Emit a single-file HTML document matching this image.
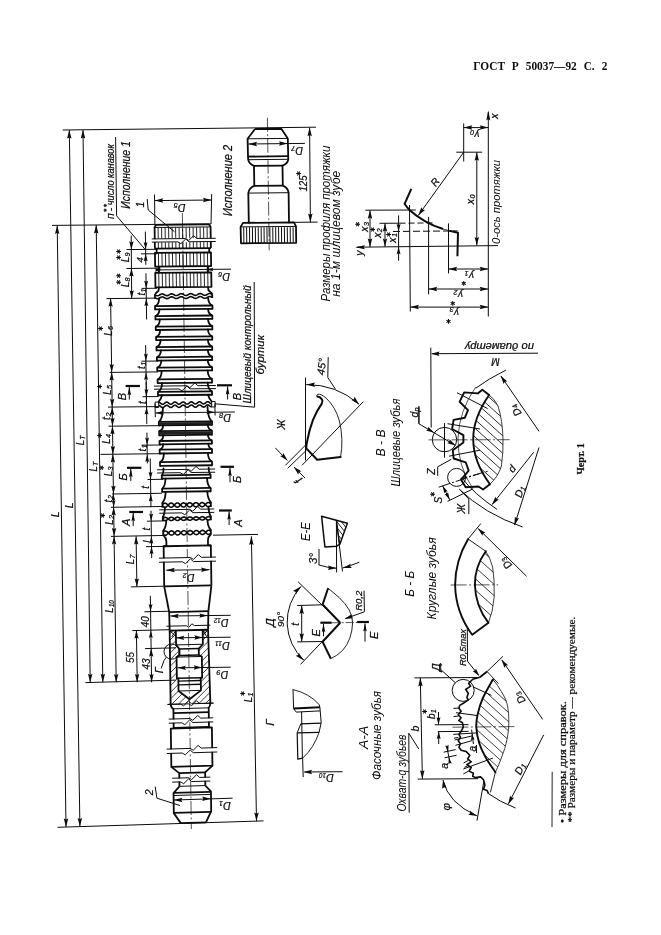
<!DOCTYPE html>
<html lang="ru"><head><meta charset="utf-8"><title>ГОСТ Р 50037-92 С. 2</title>
<style>html,body{margin:0;padding:0;background:#fff}body{width:661px;height:935px;overflow:hidden}svg{display:block;will-change:transform;opacity:0.9999}</style>
</head><body>
<svg width="661" height="935" viewBox="0 0 661 935">
<rect width="661" height="935" fill="#fff"/>
<line x1="62.7" y1="130" x2="316" y2="127.2" stroke="#0c0c0c" stroke-width="1"/>
<line x1="52" y1="225.4" x2="211" y2="223.9" stroke="#0c0c0c" stroke-width="1"/>
<line x1="57.5" y1="827.3" x2="263.5" y2="820.9" stroke="#0c0c0c" stroke-width="1"/>
<line x1="57.2" y1="225.4" x2="66" y2="827" stroke="#0c0c0c" stroke-width="1"/>
<polygon points="57.2,225.4 59.44,234 57.2,232.8 54.96,234" fill="#0c0c0c"/>
<polygon points="66,827 63.76,818.4 66,819.6 68.24,818.4" fill="#0c0c0c"/>
<line x1="69.3" y1="130" x2="79.9" y2="826.6" stroke="#0c0c0c" stroke-width="1"/>
<polygon points="69.3,130 71.54,138.6 69.3,137.4 67.06,138.6" fill="#0c0c0c"/>
<polygon points="79.9,826.6 77.66,818 79.9,819.2 82.14,818" fill="#0c0c0c"/>
<line x1="83" y1="130" x2="90.2" y2="682.3" stroke="#0c0c0c" stroke-width="1"/>
<polygon points="83,130 85.24,138.6 83,137.4 80.76,138.6" fill="#0c0c0c"/>
<polygon points="90.2,682.3 87.96,673.7 90.2,674.9 92.44,673.7" fill="#0c0c0c"/>
<line x1="96.2" y1="225" x2="102.8" y2="682.3" stroke="#0c0c0c" stroke-width="1"/>
<polygon points="96.2,225 98.44,233.6 96.2,232.4 93.96,233.6" fill="#0c0c0c"/>
<polygon points="102.8,682.3 100.56,673.7 102.8,674.9 105.04,673.7" fill="#0c0c0c"/>
<text transform="translate(54.8 514.4) rotate(-90)" x="0" y="3.78" font-family='"Liberation Sans", "DejaVu Sans", sans-serif' font-size="10.8" font-style="italic" font-weight="normal" text-anchor="middle" fill="#0c0c0c" textLength="5.8" lengthAdjust="spacingAndGlyphs" stroke="#0c0c0c" stroke-width="0.22">L</text>
<text transform="translate(68.9 505.4) rotate(-90)" x="0" y="3.78" font-family='"Liberation Sans", "DejaVu Sans", sans-serif' font-size="10.8" font-style="italic" font-weight="normal" text-anchor="middle" fill="#0c0c0c" textLength="5.8" lengthAdjust="spacingAndGlyphs" stroke="#0c0c0c" stroke-width="0.22">L</text>
<text transform="translate(80.3 442.5) rotate(-90)" x="0" y="3.78" font-family='"Liberation Sans", "DejaVu Sans", sans-serif' font-size="10.8" font-style="italic" font-weight="normal" text-anchor="middle" fill="#0c0c0c" textLength="5.4" lengthAdjust="spacingAndGlyphs" stroke="#0c0c0c" stroke-width="0.22">L</text>
<text transform="translate(82.46 437.48) rotate(-90)" x="0" y="2.52" font-family='"Liberation Sans", "DejaVu Sans", sans-serif' font-size="7.2" font-style="italic" font-weight="normal" text-anchor="middle" fill="#0c0c0c" stroke="#0c0c0c" stroke-width="0.22">T</text>
<text transform="translate(93.1 468.8) rotate(-90)" x="0" y="3.78" font-family='"Liberation Sans", "DejaVu Sans", sans-serif' font-size="10.8" font-style="italic" font-weight="normal" text-anchor="middle" fill="#0c0c0c" textLength="5.4" lengthAdjust="spacingAndGlyphs" stroke="#0c0c0c" stroke-width="0.22">L</text>
<text transform="translate(95.26 463.78) rotate(-90)" x="0" y="2.52" font-family='"Liberation Sans", "DejaVu Sans", sans-serif' font-size="7.2" font-style="italic" font-weight="normal" text-anchor="middle" fill="#0c0c0c" stroke="#0c0c0c" stroke-width="0.22">T</text>
<line x1="110.6" y1="298.5" x2="116.2" y2="682.3" stroke="#0c0c0c" stroke-width="1"/>
<polygon points="110.6,298.5 112.74,306.75 110.6,305.6 108.45,306.75" fill="#0c0c0c"/>
<polygon points="111.68,372.3 109.53,364.05 111.68,365.2 113.82,364.05" fill="#0c0c0c"/>
<polygon points="111.68,372.3 113.82,380.55 111.68,379.4 109.53,380.55" fill="#0c0c0c"/>
<polygon points="112.18,407 110.04,398.75 112.18,399.9 114.33,398.75" fill="#0c0c0c"/>
<polygon points="112.18,407 114.33,415.25 112.18,414.1 110.04,415.25" fill="#0c0c0c"/>
<polygon points="112.46,426.1 110.32,417.85 112.46,419 114.61,417.85" fill="#0c0c0c"/>
<polygon points="112.46,426.1 114.61,434.35 112.46,433.2 110.32,434.35" fill="#0c0c0c"/>
<polygon points="112.87,454.3 110.73,446.05 112.87,447.2 115.02,446.05" fill="#0c0c0c"/>
<polygon points="112.87,454.3 115.02,462.55 112.87,461.4 110.73,462.55" fill="#0c0c0c"/>
<polygon points="113.45,493.9 111.31,485.65 113.45,486.8 115.6,485.65" fill="#0c0c0c"/>
<polygon points="113.45,493.9 115.21,500.65 113.45,499.7 111.7,500.65" fill="#0c0c0c"/>
<polygon points="113.65,507.2 111.89,500.45 113.65,501.39 115.4,500.45" fill="#0c0c0c"/>
<polygon points="113.65,507.2 115.79,515.45 113.65,514.29 111.5,515.45" fill="#0c0c0c"/>
<polygon points="114.07,536.2 111.93,527.95 114.07,529.11 116.22,527.95" fill="#0c0c0c"/>
<polygon points="114.07,536.2 116.22,544.45 114.07,543.3 111.93,544.45" fill="#0c0c0c"/>
<polygon points="116.2,682.3 114.06,674.05 116.2,675.2 118.35,674.05" fill="#0c0c0c"/>
<line x1="106.5" y1="298.6" x2="156.5" y2="298.1" stroke="#0c0c0c" stroke-width="1"/>
<line x1="109.6" y1="372.4" x2="158" y2="371.92" stroke="#0c0c0c" stroke-width="1"/>
<line x1="108" y1="407.1" x2="158" y2="406.6" stroke="#0c0c0c" stroke-width="1"/>
<line x1="108.5" y1="426.2" x2="160.5" y2="425.66" stroke="#0c0c0c" stroke-width="1"/>
<line x1="100.5" y1="454.4" x2="161" y2="453.66" stroke="#0c0c0c" stroke-width="1"/>
<line x1="112" y1="494" x2="162" y2="493.25" stroke="#0c0c0c" stroke-width="1"/>
<line x1="111" y1="507.3" x2="164" y2="506.46" stroke="#0c0c0c" stroke-width="1"/>
<line x1="111" y1="536.4" x2="165" y2="535.44" stroke="#0c0c0c" stroke-width="1"/>
<line x1="85.4" y1="682.6" x2="176" y2="680.11" stroke="#0c0c0c" stroke-width="1"/>
<text transform="translate(108.6 333) rotate(-90)" x="0" y="3.67" font-family='"Liberation Sans", "DejaVu Sans", sans-serif' font-size="10.5" font-style="italic" font-weight="normal" text-anchor="middle" fill="#0c0c0c" textLength="5.25" lengthAdjust="spacingAndGlyphs" stroke="#0c0c0c" stroke-width="0.22">L</text>
<text transform="translate(110.7 328.06) rotate(-90)" x="0" y="2.52" font-family='"Liberation Sans", "DejaVu Sans", sans-serif' font-size="7.2" font-style="italic" font-weight="normal" text-anchor="middle" fill="#0c0c0c" stroke="#0c0c0c" stroke-width="0.22">6</text>
<text transform="translate(100.5 328.4) rotate(-90)" x="0" y="2.38" font-family='"DejaVu Sans", "Liberation Sans", sans-serif' font-size="6.6" text-anchor="middle" fill="#0c0c0c">✱</text>
<text transform="translate(107.6 392) rotate(-90)" x="0" y="3.67" font-family='"Liberation Sans", "DejaVu Sans", sans-serif' font-size="10.5" font-style="italic" font-weight="normal" text-anchor="middle" fill="#0c0c0c" textLength="5.25" lengthAdjust="spacingAndGlyphs" stroke="#0c0c0c" stroke-width="0.22">L</text>
<text transform="translate(109.7 387.06) rotate(-90)" x="0" y="2.52" font-family='"Liberation Sans", "DejaVu Sans", sans-serif' font-size="7.2" font-style="italic" font-weight="normal" text-anchor="middle" fill="#0c0c0c" stroke="#0c0c0c" stroke-width="0.22">5</text>
<text transform="translate(100 386.5) rotate(-90)" x="0" y="2.38" font-family='"DejaVu Sans", "Liberation Sans", sans-serif' font-size="6.6" text-anchor="middle" fill="#0c0c0c">✱</text>
<text transform="translate(106.8 418.5) rotate(-90)" x="0" y="3.67" font-family='"Liberation Sans", "DejaVu Sans", sans-serif' font-size="10.5" font-style="italic" font-weight="normal" text-anchor="middle" fill="#0c0c0c" stroke="#0c0c0c" stroke-width="0.22">t</text>
<text transform="translate(108.9 414.61) rotate(-90)" x="0" y="2.52" font-family='"Liberation Sans", "DejaVu Sans", sans-serif' font-size="7.2" font-style="italic" font-weight="normal" text-anchor="middle" fill="#0c0c0c" stroke="#0c0c0c" stroke-width="0.22">2</text>
<text transform="translate(106.8 441) rotate(-90)" x="0" y="3.67" font-family='"Liberation Sans", "DejaVu Sans", sans-serif' font-size="10.5" font-style="italic" font-weight="normal" text-anchor="middle" fill="#0c0c0c" textLength="5.25" lengthAdjust="spacingAndGlyphs" stroke="#0c0c0c" stroke-width="0.22">L</text>
<text transform="translate(108.9 436.06) rotate(-90)" x="0" y="2.52" font-family='"Liberation Sans", "DejaVu Sans", sans-serif' font-size="7.2" font-style="italic" font-weight="normal" text-anchor="middle" fill="#0c0c0c" stroke="#0c0c0c" stroke-width="0.22">4</text>
<text transform="translate(99.8 435.5) rotate(-90)" x="0" y="2.38" font-family='"DejaVu Sans", "Liberation Sans", sans-serif' font-size="6.6" text-anchor="middle" fill="#0c0c0c">✱</text>
<text transform="translate(108.8 473.5) rotate(-90)" x="0" y="3.67" font-family='"Liberation Sans", "DejaVu Sans", sans-serif' font-size="10.5" font-style="italic" font-weight="normal" text-anchor="middle" fill="#0c0c0c" textLength="5.25" lengthAdjust="spacingAndGlyphs" stroke="#0c0c0c" stroke-width="0.22">L</text>
<text transform="translate(110.9 468.56) rotate(-90)" x="0" y="2.52" font-family='"Liberation Sans", "DejaVu Sans", sans-serif' font-size="7.2" font-style="italic" font-weight="normal" text-anchor="middle" fill="#0c0c0c" stroke="#0c0c0c" stroke-width="0.22">3</text>
<text transform="translate(102 467.8) rotate(-90)" x="0" y="2.38" font-family='"DejaVu Sans", "Liberation Sans", sans-serif' font-size="6.6" text-anchor="middle" fill="#0c0c0c">✱</text>
<text transform="translate(108.8 501) rotate(-90)" x="0" y="3.67" font-family='"Liberation Sans", "DejaVu Sans", sans-serif' font-size="10.5" font-style="italic" font-weight="normal" text-anchor="middle" fill="#0c0c0c" stroke="#0c0c0c" stroke-width="0.22">t</text>
<text transform="translate(110.9 497.11) rotate(-90)" x="0" y="2.52" font-family='"Liberation Sans", "DejaVu Sans", sans-serif' font-size="7.2" font-style="italic" font-weight="normal" text-anchor="middle" fill="#0c0c0c" stroke="#0c0c0c" stroke-width="0.22">2</text>
<text transform="translate(109.8 522) rotate(-90)" x="0" y="3.67" font-family='"Liberation Sans", "DejaVu Sans", sans-serif' font-size="10.5" font-style="italic" font-weight="normal" text-anchor="middle" fill="#0c0c0c" textLength="5.25" lengthAdjust="spacingAndGlyphs" stroke="#0c0c0c" stroke-width="0.22">L</text>
<text transform="translate(111.9 517.06) rotate(-90)" x="0" y="2.52" font-family='"Liberation Sans", "DejaVu Sans", sans-serif' font-size="7.2" font-style="italic" font-weight="normal" text-anchor="middle" fill="#0c0c0c" stroke="#0c0c0c" stroke-width="0.22">2</text>
<text transform="translate(102.6 515.5) rotate(-90)" x="0" y="2.38" font-family='"DejaVu Sans", "Liberation Sans", sans-serif' font-size="6.6" text-anchor="middle" fill="#0c0c0c">✱</text>
<text transform="translate(109.4 610) rotate(-90)" x="0" y="3.67" font-family='"Liberation Sans", "DejaVu Sans", sans-serif' font-size="10.5" font-style="italic" font-weight="normal" text-anchor="middle" fill="#0c0c0c" textLength="5.25" lengthAdjust="spacingAndGlyphs" stroke="#0c0c0c" stroke-width="0.22">L</text>
<text transform="translate(111.5 603.65) rotate(-90)" x="0" y="2.52" font-family='"Liberation Sans", "DejaVu Sans", sans-serif' font-size="7.2" font-style="italic" font-weight="normal" text-anchor="middle" fill="#0c0c0c" textLength="6.85" lengthAdjust="spacingAndGlyphs" stroke="#0c0c0c" stroke-width="0.22">10</text>
<line x1="131.2" y1="235.6" x2="131.7" y2="298.5" stroke="#0c0c0c" stroke-width="1"/>
<polygon points="131.4,249.5 129.25,241.25 131.4,242.41 133.55,241.25" fill="#0c0c0c"/>
<polygon points="131.45,268.3 133.59,276.55 131.45,275.4 129.3,276.55" fill="#0c0c0c"/>
<polygon points="131.45,268.3 131.41,268.15 131.45,268.17 131.49,268.15" fill="#0c0c0c"/>
<polygon points="131.7,298.5 129.55,290.25 131.7,291.4 133.84,290.25" fill="#0c0c0c"/>
<line x1="126.5" y1="249.6" x2="157.5" y2="249.29" stroke="#0c0c0c" stroke-width="1"/>
<line x1="126.5" y1="268.5" x2="160.5" y2="268.16" stroke="#0c0c0c" stroke-width="1"/>
<text transform="translate(125.6 259.6) rotate(-90)" x="0" y="3.85" font-family='"Liberation Sans", "DejaVu Sans", sans-serif' font-size="11" font-style="italic" font-weight="normal" text-anchor="middle" fill="#0c0c0c" textLength="5.5" lengthAdjust="spacingAndGlyphs" stroke="#0c0c0c" stroke-width="0.22">L</text>
<text transform="translate(127.8 254.53) rotate(-90)" x="0" y="2.52" font-family='"Liberation Sans", "DejaVu Sans", sans-serif' font-size="7.2" font-style="italic" font-weight="normal" text-anchor="middle" fill="#0c0c0c" stroke="#0c0c0c" stroke-width="0.22">9</text>
<text transform="translate(118.8 251.5) rotate(-90)" x="0" y="2.38" font-family='"DejaVu Sans", "Liberation Sans", sans-serif' font-size="6.6" text-anchor="middle" fill="#0c0c0c">✱</text>
<text transform="translate(118.8 257.5) rotate(-90)" x="0" y="2.38" font-family='"DejaVu Sans", "Liberation Sans", sans-serif' font-size="6.6" text-anchor="middle" fill="#0c0c0c">✱</text>
<text transform="translate(125.6 284.6) rotate(-90)" x="0" y="3.85" font-family='"Liberation Sans", "DejaVu Sans", sans-serif' font-size="11" font-style="italic" font-weight="normal" text-anchor="middle" fill="#0c0c0c" textLength="5.5" lengthAdjust="spacingAndGlyphs" stroke="#0c0c0c" stroke-width="0.22">L</text>
<text transform="translate(127.8 279.53) rotate(-90)" x="0" y="2.52" font-family='"Liberation Sans", "DejaVu Sans", sans-serif' font-size="7.2" font-style="italic" font-weight="normal" text-anchor="middle" fill="#0c0c0c" stroke="#0c0c0c" stroke-width="0.22">8</text>
<text transform="translate(118.4 275.8) rotate(-90)" x="0" y="2.38" font-family='"DejaVu Sans", "Liberation Sans", sans-serif' font-size="6.6" text-anchor="middle" fill="#0c0c0c">✱</text>
<text transform="translate(118.4 282.3) rotate(-90)" x="0" y="2.38" font-family='"DejaVu Sans", "Liberation Sans", sans-serif' font-size="6.6" text-anchor="middle" fill="#0c0c0c">✱</text>
<line x1="145.33" y1="231.6" x2="145.82" y2="264.8" stroke="#0c0c0c" stroke-width="1"/>
<polygon points="145.59,249.6 143.64,242.1 145.59,243.15 147.54,242.1" fill="#0c0c0c"/>
<polygon points="145.66,253.8 147.61,261.3 145.66,260.25 143.71,261.3" fill="#0c0c0c"/>
<line x1="141" y1="253.9" x2="157.5" y2="253.74" stroke="#0c0c0c" stroke-width="1"/>
<text transform="translate(139.2 259.8) rotate(-90)" x="0" y="3.32" font-family='"Liberation Sans", "DejaVu Sans", sans-serif' font-size="9.5" font-style="italic" font-weight="normal" text-anchor="middle" fill="#0c0c0c" stroke="#0c0c0c" stroke-width="0.22">4</text>
<line x1="145.94" y1="273.3" x2="146.61" y2="319.5" stroke="#0c0c0c" stroke-width="1"/>
<polygon points="146.16,288.3 144.21,280.8 146.16,281.85 148.11,280.8" fill="#0c0c0c"/>
<polygon points="146.31,298.5 148.26,306 146.31,304.95 144.36,306" fill="#0c0c0c"/>
<line x1="141.6" y1="288.4" x2="157" y2="288.25" stroke="#0c0c0c" stroke-width="1"/>
<text transform="translate(141.2 294.2) rotate(-90)" x="0" y="3.5" font-family='"Liberation Sans", "DejaVu Sans", sans-serif' font-size="10" font-style="italic" font-weight="normal" text-anchor="middle" fill="#0c0c0c" stroke="#0c0c0c" stroke-width="0.22">t</text>
<text transform="translate(143.2 290.38) rotate(-90)" x="0" y="2.52" font-family='"Liberation Sans", "DejaVu Sans", sans-serif' font-size="7.2" font-style="italic" font-weight="normal" text-anchor="middle" fill="#0c0c0c" stroke="#0c0c0c" stroke-width="0.22">1</text>
<line x1="145.64" y1="345.1" x2="146.44" y2="399.4" stroke="#0c0c0c" stroke-width="1"/>
<polygon points="145.88,361.1 143.93,353.6 145.88,354.65 147.83,353.6" fill="#0c0c0c"/>
<polygon points="146.04,372.4 147.99,379.9 146.04,378.85 144.09,379.9" fill="#0c0c0c"/>
<line x1="141.5" y1="361.2" x2="158" y2="361.03" stroke="#0c0c0c" stroke-width="1"/>
<text transform="translate(141 367.5) rotate(-90)" x="0" y="3.5" font-family='"Liberation Sans", "DejaVu Sans", sans-serif' font-size="10" font-style="italic" font-weight="normal" text-anchor="middle" fill="#0c0c0c" stroke="#0c0c0c" stroke-width="0.22">t</text>
<text transform="translate(143 363.68) rotate(-90)" x="0" y="2.52" font-family='"Liberation Sans", "DejaVu Sans", sans-serif' font-size="7.2" font-style="italic" font-weight="normal" text-anchor="middle" fill="#0c0c0c" stroke="#0c0c0c" stroke-width="0.22">1</text>
<line x1="146.18" y1="381.6" x2="146.8" y2="424.1" stroke="#0c0c0c" stroke-width="1"/>
<polygon points="146.4,396.6 144.45,389.1 146.4,390.15 148.35,389.1" fill="#0c0c0c"/>
<polygon points="146.55,407.1 148.5,414.6 146.55,413.55 144.6,414.6" fill="#0c0c0c"/>
<line x1="142.5" y1="396.7" x2="158.5" y2="396.54" stroke="#0c0c0c" stroke-width="1"/>
<text transform="translate(142.2 402.6) rotate(-90)" x="0" y="3.5" font-family='"Liberation Sans", "DejaVu Sans", sans-serif' font-size="10" font-style="italic" font-weight="normal" text-anchor="middle" fill="#0c0c0c" stroke="#0c0c0c" stroke-width="0.22">t</text>
<line x1="146.92" y1="432.6" x2="147.37" y2="463.4" stroke="#0c0c0c" stroke-width="1"/>
<polygon points="147.1,445.1 145.15,437.6 147.1,438.65 149.05,437.6" fill="#0c0c0c"/>
<polygon points="147.24,454.4 149.19,461.9 147.24,460.85 145.29,461.9" fill="#0c0c0c"/>
<line x1="141.5" y1="445.2" x2="161" y2="444.97" stroke="#0c0c0c" stroke-width="1"/>
<text transform="translate(142.6 450.2) rotate(-90)" x="0" y="3.5" font-family='"Liberation Sans", "DejaVu Sans", sans-serif' font-size="10" font-style="italic" font-weight="normal" text-anchor="middle" fill="#0c0c0c" stroke="#0c0c0c" stroke-width="0.22">t</text>
<text transform="translate(144.6 446.38) rotate(-90)" x="0" y="2.52" font-family='"Liberation Sans", "DejaVu Sans", sans-serif' font-size="7.2" font-style="italic" font-weight="normal" text-anchor="middle" fill="#0c0c0c" stroke="#0c0c0c" stroke-width="0.22">1</text>
<line x1="150.24" y1="458.4" x2="150.95" y2="507.2" stroke="#0c0c0c" stroke-width="1"/>
<polygon points="150.55,479.4 148.6,471.9 150.55,472.95 152.5,471.9" fill="#0c0c0c"/>
<polygon points="150.76,494 152.71,501.5 150.76,500.45 148.81,501.5" fill="#0c0c0c"/>
<line x1="147.5" y1="479.5" x2="163" y2="479.28" stroke="#0c0c0c" stroke-width="1"/>
<text transform="translate(145.6 487.4) rotate(-90)" x="0" y="3.5" font-family='"Liberation Sans", "DejaVu Sans", sans-serif' font-size="10" font-style="italic" font-weight="normal" text-anchor="middle" fill="#0c0c0c" stroke="#0c0c0c" stroke-width="0.22">t</text>
<line x1="151" y1="510.6" x2="151.52" y2="546.5" stroke="#0c0c0c" stroke-width="1"/>
<polygon points="151.15,521.1 149.2,513.6 151.15,514.65 153.1,513.6" fill="#0c0c0c"/>
<polygon points="151.38,536.3 153.33,543.8 151.38,542.75 149.43,543.8" fill="#0c0c0c"/>
<line x1="147" y1="521.2" x2="164" y2="520.92" stroke="#0c0c0c" stroke-width="1"/>
<text transform="translate(146.4 529) rotate(-90)" x="0" y="3.5" font-family='"Liberation Sans", "DejaVu Sans", sans-serif' font-size="10" font-style="italic" font-weight="normal" text-anchor="middle" fill="#0c0c0c" stroke="#0c0c0c" stroke-width="0.22">t</text>
<line x1="151.53" y1="546.6" x2="151.69" y2="558" stroke="#0c0c0c" stroke-width="1"/>
<polygon points="151.53,546.6 153.48,554.1 151.53,553.05 149.58,554.1" fill="#0c0c0c"/>
<line x1="146" y1="546.7" x2="165" y2="546.35" stroke="#0c0c0c" stroke-width="1"/>
<text transform="translate(147 541.6) rotate(-90)" x="0" y="3.5" font-family='"Liberation Sans", "DejaVu Sans", sans-serif' font-size="10" font-style="italic" font-weight="normal" text-anchor="middle" fill="#0c0c0c" stroke="#0c0c0c" stroke-width="0.22">l</text>
<line x1="136.1" y1="536.3" x2="136.9" y2="586.7" stroke="#0c0c0c" stroke-width="1"/>
<polygon points="136.1,536.3 138.38,544.51 136.21,543.39 134.09,544.58" fill="#0c0c0c"/>
<polygon points="136.9,586.7 134.62,578.49 136.79,579.61 138.91,578.42" fill="#0c0c0c"/>
<line x1="130.8" y1="586.9" x2="165" y2="586.18" stroke="#0c0c0c" stroke-width="1"/>
<text transform="translate(130.6 561.5) rotate(-90)" x="0" y="3.67" font-family='"Liberation Sans", "DejaVu Sans", sans-serif' font-size="10.5" font-style="italic" font-weight="normal" text-anchor="middle" fill="#0c0c0c" textLength="5.25" lengthAdjust="spacingAndGlyphs" stroke="#0c0c0c" stroke-width="0.22">L</text>
<text transform="translate(132.7 556.56) rotate(-90)" x="0" y="2.52" font-family='"Liberation Sans", "DejaVu Sans", sans-serif' font-size="7.2" font-style="italic" font-weight="normal" text-anchor="middle" fill="#0c0c0c" stroke="#0c0c0c" stroke-width="0.22">7</text>
<line x1="150.35" y1="595.8" x2="150.58" y2="611.6" stroke="#0c0c0c" stroke-width="1"/>
<polygon points="150.58,611.6 148.63,604.1 150.58,605.15 152.53,604.1" fill="#0c0c0c"/>
<line x1="150.58" y1="611.6" x2="151.12" y2="648.5" stroke="#0c0c0c" stroke-width="1"/>
<polygon points="150.85,630.4 152.8,637.9 150.85,636.85 148.9,637.9" fill="#0c0c0c"/>
<line x1="144.4" y1="611.8" x2="169.5" y2="611.23" stroke="#0c0c0c" stroke-width="1"/>
<line x1="132.3" y1="630.6" x2="169.5" y2="629.71" stroke="#0c0c0c" stroke-width="1"/>
<text transform="translate(145 621.8) rotate(-90)" x="0" y="3.85" font-family='"Liberation Sans", "DejaVu Sans", sans-serif' font-size="11" font-style="italic" font-weight="normal" text-anchor="middle" fill="#0c0c0c" textLength="11" lengthAdjust="spacingAndGlyphs" stroke="#0c0c0c" stroke-width="0.22">40</text>
<line x1="136.4" y1="630.5" x2="137.2" y2="682.2" stroke="#0c0c0c" stroke-width="1"/>
<polygon points="136.4,630.5 138.67,638.72 136.51,637.59 134.38,638.78" fill="#0c0c0c"/>
<polygon points="137.2,682.2 134.93,673.98 137.09,675.11 139.22,673.92" fill="#0c0c0c"/>
<text transform="translate(130.6 657.5) rotate(-90)" x="0" y="3.85" font-family='"Liberation Sans", "DejaVu Sans", sans-serif' font-size="11" font-style="italic" font-weight="normal" text-anchor="middle" fill="#0c0c0c" textLength="11" lengthAdjust="spacingAndGlyphs" stroke="#0c0c0c" stroke-width="0.22">55</text>
<line x1="151.12" y1="648.5" x2="151.61" y2="682.3" stroke="#0c0c0c" stroke-width="1"/>
<polygon points="151.12,648.5 153.38,656.72 151.22,655.59 149.09,656.78" fill="#0c0c0c"/>
<polygon points="151.61,682.3 149.34,674.08 151.51,675.21 153.63,674.02" fill="#0c0c0c"/>
<line x1="145" y1="648.6" x2="176" y2="647.82" stroke="#0c0c0c" stroke-width="1"/>
<text transform="translate(145.8 664) rotate(-90)" x="0" y="3.85" font-family='"Liberation Sans", "DejaVu Sans", sans-serif' font-size="11" font-style="italic" font-weight="normal" text-anchor="middle" fill="#0c0c0c" textLength="11" lengthAdjust="spacingAndGlyphs" stroke="#0c0c0c" stroke-width="0.22">43</text>
<line x1="125.6" y1="386" x2="139.9" y2="386" stroke="#0c0c0c" stroke-width="2.2"/>
<line x1="129.3" y1="399.5" x2="129.3" y2="387" stroke="#0c0c0c" stroke-width="1"/>
<polygon points="129.3,387 131.1,395.25 129.3,394.1 127.5,395.25" fill="#0c0c0c"/>
<text transform="translate(121.9 396.5) rotate(-90)" x="0" y="3.85" font-family='"Liberation Sans", "DejaVu Sans", sans-serif' font-size="11" font-style="italic" font-weight="normal" text-anchor="middle" fill="#0c0c0c" stroke="#0c0c0c" stroke-width="0.22">В</text>
<line x1="217" y1="385.3" x2="232" y2="385.3" stroke="#0c0c0c" stroke-width="2.2"/>
<line x1="227.6" y1="399.5" x2="227.6" y2="386.3" stroke="#0c0c0c" stroke-width="1"/>
<polygon points="227.6,386.3 229.4,394.55 227.6,393.4 225.8,394.55" fill="#0c0c0c"/>
<text transform="translate(236.7 396.5) rotate(-90)" x="0" y="3.85" font-family='"Liberation Sans", "DejaVu Sans", sans-serif' font-size="11" font-style="italic" font-weight="normal" text-anchor="middle" fill="#0c0c0c" stroke="#0c0c0c" stroke-width="0.22">В</text>
<line x1="127" y1="467.8" x2="141.4" y2="467.8" stroke="#0c0c0c" stroke-width="2.2"/>
<line x1="130.8" y1="481" x2="130.8" y2="468.8" stroke="#0c0c0c" stroke-width="1"/>
<polygon points="130.8,468.8 132.6,477.05 130.8,475.9 129,477.05" fill="#0c0c0c"/>
<text transform="translate(123.2 477) rotate(-90)" x="0" y="3.85" font-family='"Liberation Sans", "DejaVu Sans", sans-serif' font-size="11" font-style="italic" font-weight="normal" text-anchor="middle" fill="#0c0c0c" stroke="#0c0c0c" stroke-width="0.22">Б</text>
<line x1="220.5" y1="466.8" x2="234" y2="466.8" stroke="#0c0c0c" stroke-width="2.2"/>
<line x1="230" y1="482.3" x2="230" y2="467.8" stroke="#0c0c0c" stroke-width="1"/>
<polygon points="230,467.8 231.8,476.05 230,474.9 228.2,476.05" fill="#0c0c0c"/>
<text transform="translate(237.3 479.5) rotate(-90)" x="0" y="3.85" font-family='"Liberation Sans", "DejaVu Sans", sans-serif' font-size="11" font-style="italic" font-weight="normal" text-anchor="middle" fill="#0c0c0c" stroke="#0c0c0c" stroke-width="0.22">Б</text>
<line x1="129.3" y1="512" x2="143" y2="512" stroke="#0c0c0c" stroke-width="2.2"/>
<line x1="133.2" y1="526" x2="133.2" y2="513" stroke="#0c0c0c" stroke-width="1"/>
<polygon points="133.2,513 135,521.25 133.2,520.1 131.4,521.25" fill="#0c0c0c"/>
<text transform="translate(126.2 522.3) rotate(-90)" x="0" y="3.85" font-family='"Liberation Sans", "DejaVu Sans", sans-serif' font-size="11" font-style="italic" font-weight="normal" text-anchor="middle" fill="#0c0c0c" stroke="#0c0c0c" stroke-width="0.22">А</text>
<line x1="219" y1="510.5" x2="231.8" y2="510.5" stroke="#0c0c0c" stroke-width="2.2"/>
<line x1="229.1" y1="525" x2="229.1" y2="511.5" stroke="#0c0c0c" stroke-width="1"/>
<polygon points="229.1,511.5 230.9,519.75 229.1,518.6 227.3,519.75" fill="#0c0c0c"/>
<text transform="translate(237.7 523) rotate(-90)" x="0" y="3.85" font-family='"Liberation Sans", "DejaVu Sans", sans-serif' font-size="11" font-style="italic" font-weight="normal" text-anchor="middle" fill="#0c0c0c" stroke="#0c0c0c" stroke-width="0.22">А</text>
<text transform="translate(110 216) rotate(-90)" x="0" y="3.67" font-family='"Liberation Sans", "DejaVu Sans", sans-serif' font-size="10.5" font-style="italic" font-weight="normal" text-anchor="middle" fill="#0c0c0c" stroke="#0c0c0c" stroke-width="0.22">п</text>
<text transform="translate(110 209.6) rotate(-90)" x="0" y="3.67" font-family='"Liberation Sans", "DejaVu Sans", sans-serif' font-size="10.5" font-style="italic" font-weight="normal" text-anchor="middle" fill="#0c0c0c" stroke="#0c0c0c" stroke-width="0.22">-</text>
<text transform="translate(110 205.2) rotate(-90)" x="0" y="3.67" font-family='"Liberation Sans", "DejaVu Sans", sans-serif' font-size="10.5" font-style="italic" font-weight="normal" text-anchor="start" fill="#0c0c0c" textLength="61" lengthAdjust="spacingAndGlyphs" stroke="#0c0c0c" stroke-width="0.22">число канавок</text>
<text transform="translate(105.4 205.6) rotate(-90)" x="0" y="1.73" font-family='"DejaVu Sans", "Liberation Sans", sans-serif' font-size="4.8" text-anchor="middle" fill="#0c0c0c">✱</text>
<text transform="translate(105.4 210.2) rotate(-90)" x="0" y="1.73" font-family='"DejaVu Sans", "Liberation Sans", sans-serif' font-size="4.8" text-anchor="middle" fill="#0c0c0c">✱</text>
<polyline points="115.6,137 116.6,215.8 145.2,249.5" fill="none" stroke="#0c0c0c" stroke-width="1" stroke-linejoin="round"/>
<text transform="translate(125.4 175) rotate(-90)" x="0" y="4.2" font-family='"Liberation Sans", "DejaVu Sans", sans-serif' font-size="12" font-style="italic" font-weight="normal" text-anchor="middle" fill="#0c0c0c" textLength="67.5" lengthAdjust="spacingAndGlyphs" stroke="#0c0c0c" stroke-width="0.22">Исполнение 1</text>
<text transform="translate(140.2 204.5) rotate(-90)" x="0" y="3.67" font-family='"Liberation Sans", "DejaVu Sans", sans-serif' font-size="10.5" font-style="italic" font-weight="normal" text-anchor="middle" fill="#0c0c0c" stroke="#0c0c0c" stroke-width="0.22">1</text>
<polyline points="147.2,199 148.2,210 174.5,231.8" fill="none" stroke="#0c0c0c" stroke-width="1" stroke-linejoin="round"/>
<text transform="translate(227.4 180.5) rotate(-90)" x="0" y="4.2" font-family='"Liberation Sans", "DejaVu Sans", sans-serif' font-size="12" font-style="italic" font-weight="normal" text-anchor="middle" fill="#0c0c0c" textLength="71" lengthAdjust="spacingAndGlyphs" stroke="#0c0c0c" stroke-width="0.22">Исполнение 2</text>
<line x1="154.5" y1="194.5" x2="154.9" y2="224.5" stroke="#0c0c0c" stroke-width="1"/>
<line x1="211.7" y1="194" x2="211" y2="224" stroke="#0c0c0c" stroke-width="1"/>
<line x1="154.6" y1="200.6" x2="211.6" y2="200" stroke="#0c0c0c" stroke-width="1"/>
<polygon points="154.6,200.6 163.18,198.27 162,200.52 163.22,202.75" fill="#0c0c0c"/>
<polygon points="211.6,200 203.02,202.33 204.2,200.08 202.98,197.85" fill="#0c0c0c"/>
<text transform="translate(181.8 207.6) rotate(180)" x="0" y="3.67" font-family='"Liberation Sans", "DejaVu Sans", sans-serif' font-size="10.5" font-style="italic" font-weight="normal" text-anchor="middle" fill="#0c0c0c" stroke="#0c0c0c" stroke-width="0.22">D</text>
<text transform="translate(175.81 205.5) rotate(180)" x="0" y="2.52" font-family='"Liberation Sans", "DejaVu Sans", sans-serif' font-size="7.2" font-style="italic" font-weight="normal" text-anchor="middle" fill="#0c0c0c" stroke="#0c0c0c" stroke-width="0.22">5</text>
<line x1="158.5" y1="269.9" x2="231" y2="269.17" stroke="#0c0c0c" stroke-width="1"/>
<polygon points="161.6,269.9 154.85,271.65 155.79,269.9 154.85,268.14" fill="#0c0c0c"/>
<polygon points="206.5,269.45 213.25,267.69 212.31,269.45 213.25,271.2" fill="#0c0c0c"/>
<line x1="159.3" y1="266.5" x2="159.3" y2="273" stroke="#0c0c0c" stroke-width="1"/>
<line x1="208.6" y1="266" x2="208.6" y2="272.5" stroke="#0c0c0c" stroke-width="1"/>
<text transform="translate(226.2 277) rotate(180)" x="0" y="3.67" font-family='"Liberation Sans", "DejaVu Sans", sans-serif' font-size="10.5" font-style="italic" font-weight="normal" text-anchor="middle" fill="#0c0c0c" stroke="#0c0c0c" stroke-width="0.22">D</text>
<text transform="translate(220.21 274.9) rotate(180)" x="0" y="2.52" font-family='"Liberation Sans", "DejaVu Sans", sans-serif' font-size="7.2" font-style="italic" font-weight="normal" text-anchor="middle" fill="#0c0c0c" stroke="#0c0c0c" stroke-width="0.22">6</text>
<line x1="155.4" y1="412.9" x2="234.9" y2="412" stroke="#0c0c0c" stroke-width="1"/>
<polygon points="155.4,412.9 163.65,410.75 162.5,412.9 163.65,415.04" fill="#0c0c0c"/>
<polygon points="214.7,412.2 206.45,414.34 207.6,412.2 206.45,410.06" fill="#0c0c0c"/>
<line x1="155" y1="403.8" x2="155.3" y2="417.2" stroke="#0c0c0c" stroke-width="1"/>
<line x1="214.9" y1="403.6" x2="215.1" y2="415.5" stroke="#0c0c0c" stroke-width="1"/>
<polyline points="214.9,403.8 254.6,407.2 254.2,282" fill="none" stroke="#0c0c0c" stroke-width="1" stroke-linejoin="round"/>
<text transform="translate(227.2 418) rotate(180)" x="0" y="3.67" font-family='"Liberation Sans", "DejaVu Sans", sans-serif' font-size="10.5" font-style="italic" font-weight="normal" text-anchor="middle" fill="#0c0c0c" stroke="#0c0c0c" stroke-width="0.22">D</text>
<text transform="translate(221.21 415.9) rotate(180)" x="0" y="2.52" font-family='"Liberation Sans", "DejaVu Sans", sans-serif' font-size="7.2" font-style="italic" font-weight="normal" text-anchor="middle" fill="#0c0c0c" stroke="#0c0c0c" stroke-width="0.22">8</text>
<text transform="translate(247 403.4) rotate(-90)" x="0" y="3.78" font-family='"Liberation Sans", "DejaVu Sans", sans-serif' font-size="10.8" font-style="italic" font-weight="normal" text-anchor="start" fill="#0c0c0c" textLength="118" lengthAdjust="spacingAndGlyphs" stroke="#0c0c0c" stroke-width="0.22">Шлицевый контрольный</text>
<text transform="translate(259.8 374.4) rotate(-90)" x="0" y="3.78" font-family='"Liberation Sans", "DejaVu Sans", sans-serif' font-size="10.8" font-style="italic" font-weight="normal" text-anchor="start" fill="#0c0c0c" textLength="39.5" lengthAdjust="spacingAndGlyphs" stroke="#0c0c0c" stroke-width="0.22">буртик</text>
<line x1="166.2" y1="570.2" x2="209.6" y2="569.7" stroke="#0c0c0c" stroke-width="1"/>
<polygon points="166.2,570.2 174.77,567.87 173.6,570.11 174.83,572.34" fill="#0c0c0c"/>
<polygon points="209.6,569.7 201.03,572.03 202.2,569.79 200.97,567.56" fill="#0c0c0c"/>
<text transform="translate(190.8 577.6) rotate(180)" x="0" y="3.67" font-family='"Liberation Sans", "DejaVu Sans", sans-serif' font-size="10.5" font-style="italic" font-weight="normal" text-anchor="middle" fill="#0c0c0c" stroke="#0c0c0c" stroke-width="0.22">D</text>
<text transform="translate(184.81 575.5) rotate(180)" x="0" y="2.52" font-family='"Liberation Sans", "DejaVu Sans", sans-serif' font-size="7.2" font-style="italic" font-weight="normal" text-anchor="middle" fill="#0c0c0c" stroke="#0c0c0c" stroke-width="0.22">2</text>
<line x1="170.4" y1="616" x2="230.7" y2="615.3" stroke="#0c0c0c" stroke-width="1"/>
<polygon points="170.4,616 178.65,613.86 177.5,616 178.65,618.14" fill="#0c0c0c"/>
<polygon points="207.6,615.55 199.35,617.69 200.5,615.55 199.35,613.4" fill="#0c0c0c"/>
<text transform="translate(224.8 622.4) rotate(180)" x="0" y="3.67" font-family='"Liberation Sans", "DejaVu Sans", sans-serif' font-size="10.5" font-style="italic" font-weight="normal" text-anchor="middle" fill="#0c0c0c" stroke="#0c0c0c" stroke-width="0.22">D</text>
<text transform="translate(217.4 620.3) rotate(180)" x="0" y="2.52" font-family='"Liberation Sans", "DejaVu Sans", sans-serif' font-size="7.2" font-style="italic" font-weight="normal" text-anchor="middle" fill="#0c0c0c" textLength="6.85" lengthAdjust="spacingAndGlyphs" stroke="#0c0c0c" stroke-width="0.22">12</text>
<line x1="176" y1="637.8" x2="230.7" y2="637.2" stroke="#0c0c0c" stroke-width="1"/>
<polygon points="176,637.8 184.25,635.65 183.09,637.8 184.25,639.94" fill="#0c0c0c"/>
<polygon points="202.6,637.5 194.35,639.64 195.5,637.5 194.35,635.36" fill="#0c0c0c"/>
<text transform="translate(226 645.6) rotate(180)" x="0" y="3.67" font-family='"Liberation Sans", "DejaVu Sans", sans-serif' font-size="10.5" font-style="italic" font-weight="normal" text-anchor="middle" fill="#0c0c0c" stroke="#0c0c0c" stroke-width="0.22">D</text>
<text transform="translate(218.6 643.5) rotate(180)" x="0" y="2.52" font-family='"Liberation Sans", "DejaVu Sans", sans-serif' font-size="7.2" font-style="italic" font-weight="normal" text-anchor="middle" fill="#0c0c0c" textLength="6.85" lengthAdjust="spacingAndGlyphs" stroke="#0c0c0c" stroke-width="0.22">11</text>
<line x1="177.6" y1="667.8" x2="230.7" y2="667.2" stroke="#0c0c0c" stroke-width="1"/>
<polygon points="177.6,667.8 185.85,665.65 184.69,667.8 185.85,669.94" fill="#0c0c0c"/>
<polygon points="202,667.5 193.75,669.64 194.91,667.5 193.75,665.36" fill="#0c0c0c"/>
<text transform="translate(224.4 674.8) rotate(180)" x="0" y="3.67" font-family='"Liberation Sans", "DejaVu Sans", sans-serif' font-size="10.5" font-style="italic" font-weight="normal" text-anchor="middle" fill="#0c0c0c" stroke="#0c0c0c" stroke-width="0.22">D</text>
<text transform="translate(218.41 672.7) rotate(180)" x="0" y="2.52" font-family='"Liberation Sans", "DejaVu Sans", sans-serif' font-size="7.2" font-style="italic" font-weight="normal" text-anchor="middle" fill="#0c0c0c" stroke="#0c0c0c" stroke-width="0.22">9</text>
<line x1="173.8" y1="800" x2="232.6" y2="798.2" stroke="#0c0c0c" stroke-width="1"/>
<polygon points="173.8,800 182.4,797.76 181.2,800 182.4,802.24" fill="#0c0c0c"/>
<polygon points="210.8,798.85 202.2,801.09 203.4,798.85 202.2,796.61" fill="#0c0c0c"/>
<text transform="translate(227 805.6) rotate(180)" x="0" y="3.67" font-family='"Liberation Sans", "DejaVu Sans", sans-serif' font-size="10.5" font-style="italic" font-weight="normal" text-anchor="middle" fill="#0c0c0c" stroke="#0c0c0c" stroke-width="0.22">D</text>
<text transform="translate(221.01 803.5) rotate(180)" x="0" y="2.52" font-family='"Liberation Sans", "DejaVu Sans", sans-serif' font-size="7.2" font-style="italic" font-weight="normal" text-anchor="middle" fill="#0c0c0c" stroke="#0c0c0c" stroke-width="0.22">1</text>
<text transform="translate(149.6 792.4) rotate(-90)" x="0" y="3.67" font-family='"Liberation Sans", "DejaVu Sans", sans-serif' font-size="10.5" font-style="italic" font-weight="normal" text-anchor="middle" fill="#0c0c0c" stroke="#0c0c0c" stroke-width="0.22">2</text>
<line x1="155.2" y1="786.6" x2="156.9" y2="798.2" stroke="#0c0c0c" stroke-width="1"/>
<line x1="156.9" y1="798.2" x2="180" y2="805.5" stroke="#0c0c0c" stroke-width="1"/>
<circle cx="171.6" cy="651.6" r="7.6" fill="none" stroke="#0c0c0c" stroke-width="1"/>
<polyline points="166.3,657.2 164,660.5 161.2,668.5" fill="none" stroke="#0c0c0c" stroke-width="1" stroke-linejoin="round"/>
<text transform="translate(159.6 670.2) rotate(-90)" x="0" y="3.85" font-family='"Liberation Sans", "DejaVu Sans", sans-serif' font-size="11" font-style="italic" font-weight="normal" text-anchor="middle" fill="#0c0c0c" stroke="#0c0c0c" stroke-width="0.22">Г</text>
<line x1="251.4" y1="536.3" x2="256.5" y2="821.2" stroke="#0c0c0c" stroke-width="1"/>
<polygon points="251.4,536.3 253.64,544.9 251.4,543.7 249.16,544.9" fill="#0c0c0c"/>
<polygon points="256.5,821.2 254.26,812.6 256.5,813.8 258.74,812.6" fill="#0c0c0c"/>
<line x1="213" y1="535.2" x2="258" y2="534.4" stroke="#0c0c0c" stroke-width="1"/>
<text transform="translate(248.6 699.5) rotate(-90)" x="0" y="3.67" font-family='"Liberation Sans", "DejaVu Sans", sans-serif' font-size="10.5" font-style="italic" font-weight="normal" text-anchor="middle" fill="#0c0c0c" textLength="5.25" lengthAdjust="spacingAndGlyphs" stroke="#0c0c0c" stroke-width="0.22">L</text>
<text transform="translate(250.7 694.56) rotate(-90)" x="0" y="2.52" font-family='"Liberation Sans", "DejaVu Sans", sans-serif' font-size="7.2" font-style="italic" font-weight="normal" text-anchor="middle" fill="#0c0c0c" stroke="#0c0c0c" stroke-width="0.22">1</text>
<text transform="translate(242.2 693.5) rotate(-90)" x="0" y="2.38" font-family='"DejaVu Sans", "Liberation Sans", sans-serif' font-size="6.6" text-anchor="middle" fill="#0c0c0c">✱</text>
<line x1="182.37" y1="213" x2="191.36" y2="829" stroke="#0c0c0c" stroke-width="0.7" stroke-dasharray="14 2.5 2 2.5"/>
<polyline points="156.04,224.86 209.04,224.34" fill="none" stroke="#0c0c0c" stroke-width="1.8" stroke-linejoin="round"/>
<polyline points="156.04,224.86 154.58,227.28 154.89,248.68" fill="none" stroke="#0c0c0c" stroke-width="1.8" stroke-linejoin="round"/>
<polyline points="209.04,224.34 210.58,226.72 210.89,248.12" fill="none" stroke="#0c0c0c" stroke-width="1.8" stroke-linejoin="round"/>
<line x1="154.58" y1="227.48" x2="210.58" y2="226.92" stroke="#0c0c0c" stroke-width="1"/>
<line x1="154.89" y1="248.68" x2="210.89" y2="248.12" stroke="#0c0c0c" stroke-width="1.8"/>
<line x1="158.08" y1="227.65" x2="158.24" y2="238.44" stroke="#0c0c0c" stroke-width="0.9"/>
<line x1="158.3" y1="242.44" x2="158.38" y2="248.44" stroke="#0c0c0c" stroke-width="0.9"/>
<line x1="161.58" y1="227.61" x2="161.74" y2="238.41" stroke="#0c0c0c" stroke-width="0.9"/>
<line x1="161.8" y1="242.41" x2="161.88" y2="248.41" stroke="#0c0c0c" stroke-width="0.9"/>
<line x1="165.08" y1="227.58" x2="165.24" y2="238.38" stroke="#0c0c0c" stroke-width="0.9"/>
<line x1="165.3" y1="242.38" x2="165.38" y2="248.38" stroke="#0c0c0c" stroke-width="0.9"/>
<line x1="168.58" y1="227.54" x2="168.74" y2="238.34" stroke="#0c0c0c" stroke-width="0.9"/>
<line x1="168.8" y1="242.34" x2="168.88" y2="248.34" stroke="#0c0c0c" stroke-width="0.9"/>
<line x1="172.08" y1="227.5" x2="172.24" y2="238.3" stroke="#0c0c0c" stroke-width="0.9"/>
<line x1="172.3" y1="242.3" x2="172.38" y2="248.3" stroke="#0c0c0c" stroke-width="0.9"/>
<line x1="175.58" y1="227.47" x2="175.74" y2="238.27" stroke="#0c0c0c" stroke-width="0.9"/>
<line x1="175.8" y1="242.27" x2="175.88" y2="248.27" stroke="#0c0c0c" stroke-width="0.9"/>
<line x1="179.08" y1="227.44" x2="179.24" y2="238.23" stroke="#0c0c0c" stroke-width="0.9"/>
<line x1="179.3" y1="242.23" x2="179.38" y2="248.23" stroke="#0c0c0c" stroke-width="0.9"/>
<line x1="182.58" y1="227.4" x2="182.74" y2="238.2" stroke="#0c0c0c" stroke-width="0.9"/>
<line x1="182.8" y1="242.2" x2="182.88" y2="248.2" stroke="#0c0c0c" stroke-width="0.9"/>
<line x1="186.08" y1="227.37" x2="186.24" y2="238.16" stroke="#0c0c0c" stroke-width="0.9"/>
<line x1="186.3" y1="242.16" x2="186.38" y2="248.16" stroke="#0c0c0c" stroke-width="0.9"/>
<line x1="189.58" y1="227.33" x2="189.74" y2="238.13" stroke="#0c0c0c" stroke-width="0.9"/>
<line x1="189.8" y1="242.13" x2="189.88" y2="248.13" stroke="#0c0c0c" stroke-width="0.9"/>
<line x1="193.08" y1="227.3" x2="193.24" y2="238.09" stroke="#0c0c0c" stroke-width="0.9"/>
<line x1="193.3" y1="242.09" x2="193.38" y2="248.09" stroke="#0c0c0c" stroke-width="0.9"/>
<line x1="196.58" y1="227.26" x2="196.74" y2="238.06" stroke="#0c0c0c" stroke-width="0.9"/>
<line x1="196.8" y1="242.06" x2="196.88" y2="248.06" stroke="#0c0c0c" stroke-width="0.9"/>
<line x1="200.08" y1="227.22" x2="200.24" y2="238.02" stroke="#0c0c0c" stroke-width="0.9"/>
<line x1="200.3" y1="242.02" x2="200.38" y2="248.02" stroke="#0c0c0c" stroke-width="0.9"/>
<line x1="203.58" y1="227.19" x2="203.74" y2="237.99" stroke="#0c0c0c" stroke-width="0.9"/>
<line x1="203.8" y1="241.99" x2="203.88" y2="247.99" stroke="#0c0c0c" stroke-width="0.9"/>
<line x1="207.08" y1="227.16" x2="207.24" y2="237.95" stroke="#0c0c0c" stroke-width="0.9"/>
<line x1="207.3" y1="241.95" x2="207.38" y2="247.95" stroke="#0c0c0c" stroke-width="0.9"/>
<polygon points="151.75,239.21 213.75,238.59 213.79,241.29 151.79,241.91" fill="#fff" stroke="none"/>
<polyline points="151.74,238.91 185.74,238.57 188.77,240.44 193.7,235.69 196.74,238.46 215.74,238.27" fill="none" stroke="#0c0c0c" stroke-width="1" stroke-linejoin="round"/>
<polyline points="151.79,242.11 177.79,241.85 180.82,243.72 185.75,238.97 188.79,241.74 215.79,241.47" fill="none" stroke="#0c0c0c" stroke-width="1" stroke-linejoin="round"/>
<polyline points="156.59,248.66 156.65,252.86" fill="none" stroke="#0c0c0c" stroke-width="1.8" stroke-linejoin="round"/>
<polyline points="209.19,248.14 209.25,252.34" fill="none" stroke="#0c0c0c" stroke-width="1.8" stroke-linejoin="round"/>
<polygon points="154.95,252.88 210.95,252.32 211.15,266.02 155.15,266.58" fill="none" stroke="#0c0c0c" stroke-width="1.8" stroke-linejoin="round"/>
<line x1="158.45" y1="253.05" x2="158.65" y2="266.35" stroke="#0c0c0c" stroke-width="0.9"/>
<line x1="161.95" y1="253.01" x2="162.15" y2="266.31" stroke="#0c0c0c" stroke-width="0.9"/>
<line x1="165.45" y1="252.98" x2="165.65" y2="266.28" stroke="#0c0c0c" stroke-width="0.9"/>
<line x1="168.95" y1="252.94" x2="169.15" y2="266.24" stroke="#0c0c0c" stroke-width="0.9"/>
<line x1="172.45" y1="252.91" x2="172.65" y2="266.21" stroke="#0c0c0c" stroke-width="0.9"/>
<line x1="175.95" y1="252.87" x2="176.15" y2="266.17" stroke="#0c0c0c" stroke-width="0.9"/>
<line x1="179.45" y1="252.84" x2="179.65" y2="266.14" stroke="#0c0c0c" stroke-width="0.9"/>
<line x1="182.95" y1="252.8" x2="183.15" y2="266.1" stroke="#0c0c0c" stroke-width="0.9"/>
<line x1="186.45" y1="252.77" x2="186.65" y2="266.06" stroke="#0c0c0c" stroke-width="0.9"/>
<line x1="189.95" y1="252.73" x2="190.15" y2="266.03" stroke="#0c0c0c" stroke-width="0.9"/>
<line x1="193.45" y1="252.7" x2="193.65" y2="266" stroke="#0c0c0c" stroke-width="0.9"/>
<line x1="196.95" y1="252.66" x2="197.15" y2="265.96" stroke="#0c0c0c" stroke-width="0.9"/>
<line x1="200.45" y1="252.62" x2="200.65" y2="265.93" stroke="#0c0c0c" stroke-width="0.9"/>
<line x1="203.95" y1="252.59" x2="204.15" y2="265.89" stroke="#0c0c0c" stroke-width="0.9"/>
<line x1="207.45" y1="252.56" x2="207.65" y2="265.86" stroke="#0c0c0c" stroke-width="0.9"/>
<polyline points="158.65,266.55 158.74,272.85" fill="none" stroke="#0c0c0c" stroke-width="1.8" stroke-linejoin="round"/>
<polyline points="207.65,266.06 207.74,272.36" fill="none" stroke="#0c0c0c" stroke-width="1.8" stroke-linejoin="round"/>
<polygon points="155.24,272.88 211.24,272.32 211.45,286.82 155.45,287.38" fill="none" stroke="#0c0c0c" stroke-width="1.8" stroke-linejoin="round"/>
<line x1="158.74" y1="273.05" x2="158.95" y2="287.14" stroke="#0c0c0c" stroke-width="0.9"/>
<line x1="162.24" y1="273.01" x2="162.45" y2="287.11" stroke="#0c0c0c" stroke-width="0.9"/>
<line x1="165.74" y1="272.98" x2="165.95" y2="287.07" stroke="#0c0c0c" stroke-width="0.9"/>
<line x1="169.24" y1="272.94" x2="169.45" y2="287.04" stroke="#0c0c0c" stroke-width="0.9"/>
<line x1="172.74" y1="272.91" x2="172.95" y2="287" stroke="#0c0c0c" stroke-width="0.9"/>
<line x1="176.24" y1="272.87" x2="176.45" y2="286.97" stroke="#0c0c0c" stroke-width="0.9"/>
<line x1="179.74" y1="272.84" x2="179.95" y2="286.94" stroke="#0c0c0c" stroke-width="0.9"/>
<line x1="183.24" y1="272.8" x2="183.45" y2="286.9" stroke="#0c0c0c" stroke-width="0.9"/>
<line x1="186.74" y1="272.76" x2="186.95" y2="286.86" stroke="#0c0c0c" stroke-width="0.9"/>
<line x1="190.24" y1="272.73" x2="190.45" y2="286.83" stroke="#0c0c0c" stroke-width="0.9"/>
<line x1="193.74" y1="272.69" x2="193.95" y2="286.79" stroke="#0c0c0c" stroke-width="0.9"/>
<line x1="197.24" y1="272.66" x2="197.45" y2="286.76" stroke="#0c0c0c" stroke-width="0.9"/>
<line x1="200.74" y1="272.62" x2="200.95" y2="286.72" stroke="#0c0c0c" stroke-width="0.9"/>
<line x1="204.24" y1="272.59" x2="204.45" y2="286.69" stroke="#0c0c0c" stroke-width="0.9"/>
<line x1="207.74" y1="272.56" x2="207.95" y2="286.65" stroke="#0c0c0c" stroke-width="0.9"/>
<polyline points="158.95,287.35 158.5,290.75 155.15,293.88" fill="none" stroke="#0c0c0c" stroke-width="1.8" stroke-linejoin="round"/>
<polyline points="207.95,286.86 208.5,290.25 211.95,293.32" fill="none" stroke="#0c0c0c" stroke-width="1.8" stroke-linejoin="round"/>
<polyline points="154.96,294.83 155.47,295.12 155.97,295.38 156.48,295.59 156.98,295.72 157.48,295.76 157.99,295.7 158.48,295.55 158.98,295.32 159.48,295.04 159.98,294.74 160.48,294.45 160.97,294.2 161.47,294.02 161.97,293.92 162.48,293.93 162.98,294.03 163.48,294.22 163.99,294.47 164.49,294.75 165,295.04 165.51,295.3 166.01,295.51 166.52,295.63 167.02,295.66 167.52,295.6 168.02,295.44 168.52,295.21 169.01,294.92 169.51,294.62 170.01,294.33 170.51,294.09 171.01,293.91 171.51,293.83 172.01,293.84 172.51,293.94 173.02,294.14 173.52,294.39 174.03,294.68 174.53,294.96 175.04,295.22 175.54,295.42 176.05,295.54 176.55,295.57 177.05,295.49 177.55,295.33 178.05,295.09 178.55,294.81 179.04,294.51 179.54,294.22 180.04,293.98 180.54,293.81 181.04,293.73 181.54,293.75 182.05,293.86 182.55,294.06 183.06,294.31 183.56,294.6 184.07,294.89 184.57,295.14 185.08,295.34 185.58,295.45 186.08,295.47 186.58,295.39 187.08,295.22 187.58,294.98 188.08,294.69 188.58,294.39 189.08,294.11 189.57,293.87 190.07,293.71 190.57,293.63 191.08,293.66 191.58,293.78 192.08,293.98 192.59,294.24 193.1,294.52 193.6,294.81 194.11,295.06 194.61,295.26 195.12,295.36 195.62,295.37 196.12,295.29 196.62,295.11 197.12,294.87 197.61,294.58 198.11,294.28 198.61,293.99 199.11,293.76 199.61,293.6 200.11,293.54 200.61,293.57 201.11,293.69 201.62,293.9 202.12,294.16 202.63,294.45 203.14,294.73 203.64,294.98 204.15,295.17 204.65,295.27 205.15,295.28 205.65,295.18 206.15,295 206.65,294.75 207.15,294.46 207.64,294.16 208.14,293.88 208.64,293.65 209.14,293.5 209.64,293.44 210.14,293.48 210.65,293.61 211.15,293.82 211.66,294.08 212.16,294.37" fill="none" stroke="#0c0c0c" stroke-width="1.6" stroke-linejoin="round"/>
<polyline points="155.01,297.83 155.51,298.12 156.02,298.38 156.52,298.59 157.03,298.72 157.53,298.76 158.03,298.7 158.53,298.55 159.03,298.32 159.52,298.04 160.02,297.74 160.52,297.45 161.02,297.2 161.52,297.02 162.02,296.92 162.52,296.93 163.02,297.03 163.53,297.22 164.03,297.47 164.54,297.75 165.04,298.04 165.55,298.3 166.06,298.51 166.56,298.63 167.06,298.66 167.56,298.6 168.06,298.44 168.56,298.21 169.06,297.92 169.56,297.62 170.05,297.33 170.55,297.09 171.05,296.91 171.55,296.83 172.05,296.84 172.56,296.94 173.06,297.14 173.57,297.39 174.07,297.68 174.58,297.96 175.08,298.22 175.59,298.42 176.09,298.54 176.59,298.57 177.1,298.49 177.59,298.33 178.09,298.09 178.59,297.81 179.09,297.51 179.59,297.22 180.08,296.98 180.58,296.81 181.08,296.73 181.59,296.75 182.09,296.86 182.59,297.06 183.1,297.31 183.61,297.6 184.11,297.89 184.62,298.14 185.12,298.34 185.63,298.45 186.13,298.47 186.63,298.39 187.13,298.22 187.63,297.98 188.12,297.69 188.62,297.39 189.12,297.11 189.62,296.87 190.12,296.71 190.62,296.63 191.12,296.66 191.62,296.78 192.13,296.98 192.63,297.24 193.14,297.52 193.65,297.81 194.15,298.06 194.66,298.26 195.16,298.36 195.66,298.37 196.16,298.29 196.66,298.11 197.16,297.87 197.66,297.58 198.15,297.28 198.65,296.99 199.15,296.76 199.65,296.6 200.15,296.54 200.65,296.57 201.16,296.69 201.66,296.9 202.17,297.16 202.67,297.45 203.18,297.73 203.68,297.98 204.19,298.17 204.69,298.27 205.19,298.28 205.69,298.18 206.19,298 206.69,297.75 207.19,297.46 207.69,297.16 208.19,296.88 208.68,296.65 209.18,296.5 209.68,296.44 210.19,296.48 210.69,296.61 211.2,296.82 211.7,297.08 212.21,297.37" fill="none" stroke="#0c0c0c" stroke-width="1.6" stroke-linejoin="round"/>
<polyline points="154.95,293.89 155.02,298.69" fill="none" stroke="#0c0c0c" stroke-width="1.8" stroke-linejoin="round"/>
<polyline points="212.15,293.31 212.22,298.11" fill="none" stroke="#0c0c0c" stroke-width="1.8" stroke-linejoin="round"/>
<path d="M159.11 298.44 Q158.99 304.53 155.03 306.09 L155.07 309.39" fill="none" stroke="#0c0c0c" stroke-width="1.8" stroke-linejoin="round" stroke-linecap="round" />
<path d="M208.11 297.95 Q208.41 304.03 212.43 305.51 L212.47 308.81" fill="none" stroke="#0c0c0c" stroke-width="1.8" stroke-linejoin="round" stroke-linecap="round" />
<line x1="155.03" y1="306.09" x2="212.43" y2="305.51" stroke="#0c0c0c" stroke-width="1.8"/>
<line x1="155.07" y1="309.39" x2="212.47" y2="308.81" stroke="#0c0c0c" stroke-width="1.8"/>
<path d="M159.49 309.34 Q159.35 314.7 155.38 316.08 L155.43 319.38" fill="none" stroke="#0c0c0c" stroke-width="1.8" stroke-linejoin="round" stroke-linecap="round" />
<path d="M208.06 308.86 Q208.35 314.22 212.36 315.52 L212.41 318.82" fill="none" stroke="#0c0c0c" stroke-width="1.8" stroke-linejoin="round" stroke-linecap="round" />
<line x1="155.38" y1="316.08" x2="212.36" y2="315.52" stroke="#0c0c0c" stroke-width="1.8"/>
<line x1="155.43" y1="319.38" x2="212.41" y2="318.82" stroke="#0c0c0c" stroke-width="1.8"/>
<path d="M159.84 319.34 Q159.72 325.18 155.75 326.68 L155.8 329.98" fill="none" stroke="#0c0c0c" stroke-width="1.8" stroke-linejoin="round" stroke-linecap="round" />
<path d="M207.99 318.86 Q208.29 324.7 212.3 326.12 L212.35 329.42" fill="none" stroke="#0c0c0c" stroke-width="1.8" stroke-linejoin="round" stroke-linecap="round" />
<line x1="155.75" y1="326.68" x2="212.3" y2="326.12" stroke="#0c0c0c" stroke-width="1.8"/>
<line x1="155.8" y1="329.98" x2="212.35" y2="329.42" stroke="#0c0c0c" stroke-width="1.8"/>
<path d="M160.21 329.94 Q160.08 335.46 156.11 336.88 L156.16 340.18" fill="none" stroke="#0c0c0c" stroke-width="1.8" stroke-linejoin="round" stroke-linecap="round" />
<path d="M207.94 329.46 Q208.23 334.98 212.24 336.32 L212.29 339.62" fill="none" stroke="#0c0c0c" stroke-width="1.8" stroke-linejoin="round" stroke-linecap="round" />
<line x1="156.11" y1="336.88" x2="212.24" y2="336.32" stroke="#0c0c0c" stroke-width="1.8"/>
<line x1="156.16" y1="340.18" x2="212.29" y2="339.62" stroke="#0c0c0c" stroke-width="1.8"/>
<path d="M160.57 340.14 Q160.44 345.66 156.47 347.08 L156.52 350.38" fill="none" stroke="#0c0c0c" stroke-width="1.8" stroke-linejoin="round" stroke-linecap="round" />
<path d="M207.87 339.66 Q208.16 345.18 212.17 346.52 L212.22 349.82" fill="none" stroke="#0c0c0c" stroke-width="1.8" stroke-linejoin="round" stroke-linecap="round" />
<line x1="156.47" y1="347.08" x2="212.17" y2="346.52" stroke="#0c0c0c" stroke-width="1.8"/>
<line x1="156.52" y1="350.38" x2="212.22" y2="349.82" stroke="#0c0c0c" stroke-width="1.8"/>
<path d="M160.93 350.33 Q160.81 355.86 156.84 357.28 L156.88 360.58" fill="none" stroke="#0c0c0c" stroke-width="1.8" stroke-linejoin="round" stroke-linecap="round" />
<path d="M207.81 349.87 Q208.1 355.38 212.11 356.72 L212.16 360.02" fill="none" stroke="#0c0c0c" stroke-width="1.8" stroke-linejoin="round" stroke-linecap="round" />
<line x1="156.84" y1="357.28" x2="212.11" y2="356.72" stroke="#0c0c0c" stroke-width="1.8"/>
<line x1="156.88" y1="360.58" x2="212.16" y2="360.02" stroke="#0c0c0c" stroke-width="1.8"/>
<path d="M161.3 360.53 Q161.17 366.21 157.2 367.67 L157.25 370.97" fill="none" stroke="#0c0c0c" stroke-width="1.8" stroke-linejoin="round" stroke-linecap="round" />
<path d="M207.75 360.07 Q208.04 365.75 212.05 367.13 L212.1 370.43" fill="none" stroke="#0c0c0c" stroke-width="1.8" stroke-linejoin="round" stroke-linecap="round" />
<line x1="157.2" y1="367.67" x2="212.05" y2="367.13" stroke="#0c0c0c" stroke-width="1.8"/>
<line x1="157.25" y1="370.97" x2="212.1" y2="370.43" stroke="#0c0c0c" stroke-width="1.8"/>
<path d="M161.66 370.93 Q161.55 377.73 157.58 379.47 L157.64 383.07" fill="none" stroke="#0c0c0c" stroke-width="1.8" stroke-linejoin="round" stroke-linecap="round" />
<path d="M207.69 370.47 Q208 377.27 212.01 378.93 L212.06 382.53" fill="none" stroke="#0c0c0c" stroke-width="1.8" stroke-linejoin="round" stroke-linecap="round" />
<line x1="157.58" y1="379.47" x2="212.01" y2="378.93" stroke="#0c0c0c" stroke-width="1.8"/>
<line x1="157.64" y1="383.07" x2="212.06" y2="382.53" stroke="#0c0c0c" stroke-width="1.8"/>
<path d="M162.05 383.03 Q161.94 390.07 157.98 391.87 L158.03 395.27" fill="none" stroke="#0c0c0c" stroke-width="1.8" stroke-linejoin="round" stroke-linecap="round" />
<path d="M207.65 382.57 Q207.96 389.61 211.98 391.33 L212.03 394.73" fill="none" stroke="#0c0c0c" stroke-width="1.8" stroke-linejoin="round" stroke-linecap="round" />
<line x1="157.98" y1="391.87" x2="211.98" y2="391.33" stroke="#0c0c0c" stroke-width="1.8"/>
<line x1="158.03" y1="395.27" x2="212.03" y2="394.73" stroke="#0c0c0c" stroke-width="1.8"/>
<polyline points="153.89,386.11 186.89,385.78 189.92,387.65 194.85,382.9 197.89,385.67 215.89,385.49" fill="none" stroke="#0c0c0c" stroke-width="1" stroke-linejoin="round"/>
<polyline points="153.94,389.21 178.94,388.96 181.97,390.83 186.9,386.08 189.94,388.85 215.94,388.59" fill="none" stroke="#0c0c0c" stroke-width="1" stroke-linejoin="round"/>
<path d="M162.03 395.23 Q161.09 399.24 158.62 401.87" fill="none" stroke="#0c0c0c" stroke-width="1.8" stroke-linejoin="round" stroke-linecap="round" />
<path d="M208.03 394.77 Q209.09 398.76 211.62 401.34" fill="none" stroke="#0c0c0c" stroke-width="1.8" stroke-linejoin="round" stroke-linecap="round" />
<polyline points="158.63,402.17 159.13,402.29 159.63,402.56 160.14,402.92 160.65,403.33 161.15,403.73 161.66,404.06 162.16,404.27 162.66,404.32 163.16,404.22 163.66,403.98 164.15,403.62 164.64,403.2 165.14,402.79 165.63,402.43 166.13,402.19 166.63,402.09 167.13,402.14 167.63,402.35 168.14,402.68 168.64,403.08 169.15,403.49 169.66,403.85 170.16,404.12 170.66,404.24 171.16,404.2 171.66,404.01 172.15,403.69 172.65,403.29 173.14,402.87 173.64,402.48 174.13,402.19 174.63,402.03 175.13,402.02 175.63,402.17 176.14,402.46 176.64,402.83 177.15,403.25 177.65,403.64 178.16,403.94 178.66,404.13 179.16,404.15 179.66,404.02 180.16,403.75 180.65,403.38 181.14,402.96 181.64,402.55 182.13,402.21 182.63,401.99 183.13,401.92 183.63,402.01 184.13,402.25 184.64,402.59 185.14,403 185.65,403.41 186.16,403.75 186.66,403.99 187.16,404.08 187.66,404.01 188.16,403.79 188.65,403.45 189.15,403.04 189.64,402.62 190.13,402.25 190.63,401.98 191.13,401.85 191.63,401.87 192.13,402.06 192.64,402.36 193.14,402.75 193.65,403.17 194.15,403.54 194.66,403.83 195.16,403.98 195.66,403.97 196.16,403.81 196.65,403.52 197.15,403.13 197.64,402.71 198.14,402.31 198.63,401.99 199.13,401.8 199.63,401.76 200.13,401.88 200.63,402.15 201.14,402.51 201.65,402.92 202.15,403.32 202.66,403.65 203.16,403.86 203.66,403.91 204.16,403.81 204.66,403.57 205.15,403.21 205.64,402.8 206.14,402.38 206.63,402.02 207.13,401.78 207.63,401.68 208.13,401.73 208.63,401.94 209.14,402.27 209.64,402.67 210.15,403.08 210.66,403.44 211.16,403.71 211.66,403.83" fill="none" stroke="#0c0c0c" stroke-width="1.6" stroke-linejoin="round"/>
<polyline points="158.68,405.37 159.18,405.49 159.68,405.76 160.19,406.12 160.69,406.53 161.2,406.93 161.7,407.26 162.21,407.47 162.71,407.52 163.21,407.42 163.7,407.18 164.2,406.82 164.69,406.4 165.19,405.99 165.68,405.63 166.18,405.39 166.68,405.29 167.18,405.34 167.68,405.55 168.18,405.88 168.69,406.28 169.2,406.69 169.7,407.05 170.21,407.32 170.71,407.44 171.21,407.4 171.7,407.21 172.2,406.89 172.69,406.49 173.19,406.07 173.68,405.68 174.18,405.39 174.68,405.23 175.18,405.22 175.68,405.37 176.18,405.66 176.69,406.03 177.19,406.45 177.7,406.84 178.2,407.14 178.71,407.33 179.21,407.35 179.71,407.22 180.2,406.95 180.7,406.58 181.19,406.16 181.68,405.75 182.18,405.41 182.68,405.19 183.18,405.12 183.68,405.21 184.18,405.45 184.69,405.79 185.19,406.2 185.7,406.61 186.2,406.95 186.71,407.19 187.21,407.28 187.71,407.21 188.2,406.99 188.7,406.65 189.19,406.24 189.69,405.82 190.18,405.45 190.68,405.18 191.18,405.05 191.68,405.07 192.18,405.26 192.68,405.56 193.19,405.95 193.7,406.37 194.2,406.74 194.71,407.03 195.21,407.18 195.71,407.17 196.21,407.01 196.7,406.72 197.2,406.33 197.69,405.91 198.18,405.51 198.68,405.19 199.18,405 199.68,404.96 200.18,405.08 200.68,405.35 201.19,405.71 201.69,406.12 202.2,406.52 202.7,406.85 203.21,407.06 203.71,407.11 204.21,407.01 204.7,406.77 205.2,406.41 205.69,406 206.19,405.58 206.68,405.22 207.18,404.98 207.68,404.88 208.18,404.93 208.68,405.14 209.18,405.47 209.69,405.87 210.2,406.28 210.7,406.64 211.21,406.91 211.71,407.03" fill="none" stroke="#0c0c0c" stroke-width="1.6" stroke-linejoin="round"/>
<polygon points="158.63,402.06 155.13,402.1 155.21,407.5 158.71,407.46" fill="none" stroke="#0c0c0c" stroke-width="1" stroke-linejoin="round"/>
<polygon points="211.63,401.54 215.13,401.5 215.21,406.9 211.71,406.94" fill="none" stroke="#0c0c0c" stroke-width="1" stroke-linejoin="round"/>
<path d="M162.91 407.42 Q162.86 418.95 158.82 421.87 L158.87 425.27" fill="none" stroke="#0c0c0c" stroke-width="1.8" stroke-linejoin="round" stroke-linecap="round" />
<path d="M207.51 406.98 Q207.89 418.49 212.02 421.33 L212.07 424.73" fill="none" stroke="#0c0c0c" stroke-width="1.8" stroke-linejoin="round" stroke-linecap="round" />
<line x1="158.82" y1="421.87" x2="212.02" y2="421.33" stroke="#0c0c0c" stroke-width="1.8"/>
<line x1="158.87" y1="425.27" x2="212.07" y2="424.73" stroke="#0c0c0c" stroke-width="1.8"/>
<polygon points="158.83,422.47 212.03,421.93 212.06,424.13 158.86,424.67" fill="#222" stroke="none"/>
<path d="M163.17 425.23 Q163.03 429.96 159.15 431.18 L159.21 435.29" fill="none" stroke="#0c0c0c" stroke-width="1.8" stroke-linejoin="round" stroke-linecap="round" />
<path d="M207.77 424.77 Q208.04 429.48 211.95 430.62 L212.01 434.71" fill="none" stroke="#0c0c0c" stroke-width="1.8" stroke-linejoin="round" stroke-linecap="round" />
<line x1="159.15" y1="431.18" x2="211.95" y2="430.62" stroke="#0c0c0c" stroke-width="1.8"/>
<line x1="159.21" y1="435.29" x2="212.01" y2="434.71" stroke="#0c0c0c" stroke-width="1.8"/>
<polygon points="159.16,431.78 211.96,431.22 212,434.11 159.2,434.69" fill="#222" stroke="none"/>
<path d="M163.31 435.25 Q163.18 439.81 159.5 441 L159.54 444.3" fill="none" stroke="#0c0c0c" stroke-width="1.8" stroke-linejoin="round" stroke-linecap="round" />
<path d="M207.91 434.75 Q208.17 439.31 211.9 440.4 L211.94 443.7" fill="none" stroke="#0c0c0c" stroke-width="1.8" stroke-linejoin="round" stroke-linecap="round" />
<line x1="159.5" y1="441" x2="211.9" y2="440.4" stroke="#0c0c0c" stroke-width="1.8"/>
<line x1="159.54" y1="444.3" x2="211.94" y2="443.7" stroke="#0c0c0c" stroke-width="1.8"/>
<path d="M163.14 444.26 Q163.03 448.59 159.62 449.71 L159.68 453.52" fill="none" stroke="#0c0c0c" stroke-width="1.8" stroke-linejoin="round" stroke-linecap="round" />
<path d="M208.34 443.74 Q208.59 448.05 212.02 449.09 L212.08 452.88" fill="none" stroke="#0c0c0c" stroke-width="1.8" stroke-linejoin="round" stroke-linecap="round" />
<line x1="159.62" y1="449.71" x2="212.02" y2="449.09" stroke="#0c0c0c" stroke-width="1.8"/>
<line x1="159.68" y1="453.52" x2="212.08" y2="452.88" stroke="#0c0c0c" stroke-width="1.8"/>
<path d="M163.88 453.47 Q163.78 460.36 160 462.13 L160.06 465.94" fill="none" stroke="#0c0c0c" stroke-width="1.8" stroke-linejoin="round" stroke-linecap="round" />
<path d="M207.88 452.93 Q208.18 459.8 212 461.47 L212.06 465.26" fill="none" stroke="#0c0c0c" stroke-width="1.8" stroke-linejoin="round" stroke-linecap="round" />
<line x1="160" y1="462.13" x2="212" y2="461.47" stroke="#0c0c0c" stroke-width="1.8"/>
<line x1="160.06" y1="465.94" x2="212.06" y2="465.26" stroke="#0c0c0c" stroke-width="1.8"/>
<polyline points="157.11,469.79 188.11,469.37 191.14,471.23 196.07,466.47 199.11,469.23 215.11,469.01" fill="none" stroke="#0c0c0c" stroke-width="1" stroke-linejoin="round"/>
<polyline points="157.16,472.99 180.16,472.68 183.19,474.54 188.12,469.77 191.16,472.53 215.16,472.21" fill="none" stroke="#0c0c0c" stroke-width="1" stroke-linejoin="round"/>
<path d="M163.49 468.3 Q163.49 473.91 161.8 475.33 L161.84 478.64" fill="none" stroke="#0c0c0c" stroke-width="1.8" stroke-linejoin="round" stroke-linecap="round" />
<path d="M208.69 467.7 Q208.87 473.29 210.6 474.67 L210.64 477.96" fill="none" stroke="#0c0c0c" stroke-width="1.8" stroke-linejoin="round" stroke-linecap="round" />
<line x1="161.8" y1="475.33" x2="210.6" y2="474.67" stroke="#0c0c0c" stroke-width="1.8"/>
<line x1="161.84" y1="478.64" x2="210.64" y2="477.96" stroke="#0c0c0c" stroke-width="1.8"/>
<path d="M165.44 478.59 Q165.39 486.6 162.09 488.65 L162.14 491.96" fill="none" stroke="#0c0c0c" stroke-width="1.8" stroke-linejoin="round" stroke-linecap="round" />
<path d="M207.04 478.01 Q207.34 486 210.69 487.95 L210.74 491.24" fill="none" stroke="#0c0c0c" stroke-width="1.8" stroke-linejoin="round" stroke-linecap="round" />
<line x1="162.09" y1="488.65" x2="210.69" y2="487.95" stroke="#0c0c0c" stroke-width="1.8"/>
<line x1="162.14" y1="491.96" x2="210.74" y2="491.24" stroke="#0c0c0c" stroke-width="1.8"/>
<path d="M165.64 491.91 Q165.41 499.48 162.4 502.77" fill="none" stroke="#0c0c0c" stroke-width="1.8" stroke-linejoin="round" stroke-linecap="round" />
<path d="M207.24 491.29 Q207.69 498.84 210.8 502.03" fill="none" stroke="#0c0c0c" stroke-width="1.8" stroke-linejoin="round" stroke-linecap="round" />
<polyline points="162.44,505.91 162.95,506.39 163.46,506.79 163.97,507.1 164.48,507.29 164.98,507.34 165.49,507.26 165.99,507.05 166.49,506.72 166.99,506.29 167.48,505.79 167.98,505.25 168.48,504.71 168.97,504.2 169.47,503.75 169.97,503.4 170.47,503.16 170.97,503.05 171.48,503.07 171.98,503.23 172.49,503.51 173,503.9 173.51,504.37 174.03,504.88 174.54,505.41 175.05,505.91 175.56,506.37 176.07,506.74 176.58,507 177.08,507.13 177.59,507.13 178.09,506.99 178.59,506.73 179.09,506.36 179.59,505.9 180.08,505.38 180.58,504.84 181.08,504.3 181.57,503.82 182.07,503.4 182.57,503.09 183.07,502.9 183.58,502.85 184.08,502.93 184.59,503.14 185.1,503.47 185.61,503.89 186.12,504.38 186.63,504.9 187.14,505.42 187.66,505.91 188.17,506.33 188.68,506.66 189.18,506.87 189.69,506.95 190.19,506.89 190.69,506.71 191.19,506.4 191.69,505.98 192.19,505.5 192.68,504.96 193.18,504.42 193.68,503.91 194.18,503.44 194.67,503.07 195.17,502.81 195.68,502.67 196.18,502.67 196.69,502.81 197.2,503.07 197.71,503.43 198.22,503.89 198.73,504.39 199.24,504.92 199.75,505.43 200.26,505.9 200.77,506.28 201.28,506.56 201.79,506.72 202.29,506.75 202.79,506.64 203.3,506.4 203.79,506.04 204.29,505.6 204.79,505.09 205.29,504.55 205.78,504.01 206.28,503.52 206.78,503.09 207.28,502.76 207.78,502.55 208.28,502.46 208.79,502.52 209.29,502.7 209.8,503.01 210.31,503.42 210.82,503.89" fill="none" stroke="#0c0c0c" stroke-width="1.6" stroke-linejoin="round"/>
<polyline points="162.42,504.65 162.92,504.15 163.42,503.73 163.92,503.41 164.42,503.21 164.92,503.14 165.43,503.2 165.94,503.4 166.44,503.72 166.95,504.13 167.47,504.61 167.98,505.13 168.49,505.66 169,506.15 169.51,506.58 170.02,506.92 170.53,507.15 171.03,507.24 171.54,507.2 172.04,507.03 172.54,506.73 173.04,506.32 173.53,505.84 174.03,505.31 174.53,504.77 175.02,504.25 175.52,503.78 176.02,503.4 176.52,503.12 177.02,502.97 177.53,502.95 178.03,503.07 178.54,503.32 179.05,503.68 179.56,504.13 180.07,504.63 180.58,505.15 181.1,505.67 181.61,506.14 182.12,506.54 182.63,506.83 183.13,507.01 183.64,507.05 184.14,506.95 184.64,506.72 185.14,506.38 185.64,505.94 186.14,505.44 186.63,504.9 187.13,504.36 187.63,503.86 188.12,503.42 188.62,503.08 189.12,502.85 189.63,502.75 190.13,502.79 190.64,502.97 191.15,503.26 191.66,503.66 192.17,504.13 192.68,504.65 193.19,505.17 193.7,505.67 194.21,506.12 194.72,506.48 195.23,506.72 195.74,506.84 196.24,506.83 196.74,506.68 197.24,506.4 197.74,506.02 198.24,505.55 198.74,505.03 199.23,504.49 199.73,503.96 200.23,503.48 200.73,503.08 201.23,502.78 201.73,502.6 202.23,502.56 202.74,502.66 203.24,502.88 203.75,503.22 204.26,503.65 204.78,504.14 205.29,504.67 205.8,505.19 206.31,505.67 206.82,506.08 207.33,506.39 207.84,506.59 208.34,506.66 208.85,506.59 209.35,506.38 209.85,506.06 210.34,505.64 210.84,505.15" fill="none" stroke="#0c0c0c" stroke-width="1.6" stroke-linejoin="round"/>
<polyline points="162.4,502.77 162.47,507.78" fill="none" stroke="#0c0c0c" stroke-width="1.8" stroke-linejoin="round"/>
<polyline points="210.8,502.03 210.87,507.02" fill="none" stroke="#0c0c0c" stroke-width="1.8" stroke-linejoin="round"/>
<polyline points="159.2,509.84 189.7,509.35 192.73,511.2 197.66,506.43 200.7,509.18 214.2,508.96" fill="none" stroke="#0c0c0c" stroke-width="1" stroke-linejoin="round"/>
<polyline points="159.25,513.25 181.75,512.88 184.78,514.73 189.71,509.95 192.75,512.7 214.25,512.35" fill="none" stroke="#0c0c0c" stroke-width="1" stroke-linejoin="round"/>
<path d="M164.87 507.75 Q164.74 514.2 162.8 516.99" fill="none" stroke="#0c0c0c" stroke-width="1.8" stroke-linejoin="round" stroke-linecap="round" />
<path d="M208.47 507.05 Q208.78 513.48 210.8 516.21" fill="none" stroke="#0c0c0c" stroke-width="1.8" stroke-linejoin="round" stroke-linecap="round" />
<polyline points="162.84,519.7 163.35,520.05 163.85,520.34 164.36,520.54 164.86,520.65 165.36,520.65 165.86,520.55 166.35,520.35 166.85,520.06 167.34,519.7 167.84,519.3 168.33,518.87 168.83,518.45 169.32,518.07 169.82,517.73 170.31,517.48 170.81,517.32 171.31,517.26 171.81,517.3 172.31,517.45 172.82,517.69 173.32,518 173.83,518.37 174.33,518.77 174.84,519.18 175.34,519.57 175.85,519.91 176.35,520.18 176.86,520.36 177.36,520.45 177.86,520.43 178.36,520.31 178.85,520.09 179.35,519.78 179.84,519.42 180.34,519.01 180.83,518.58 181.32,518.17 181.82,517.79 182.32,517.47 182.81,517.23 183.31,517.09 183.81,517.05 184.31,517.12 184.81,517.28 185.32,517.54 185.82,517.87 186.33,518.24 186.83,518.65 187.34,519.06 187.84,519.43 188.35,519.76 188.85,520.02 189.36,520.18 189.86,520.25 190.36,520.21 190.85,520.06 191.35,519.83 191.85,519.51 192.34,519.13 192.84,518.72 193.33,518.29 193.82,517.88 194.32,517.52 194.81,517.21 195.31,516.99 195.81,516.87 196.31,516.85 196.81,516.94 197.31,517.12 197.82,517.39 198.32,517.73 198.83,518.12 199.33,518.53 199.84,518.93 200.35,519.3 200.85,519.61 201.35,519.85 201.86,520 202.36,520.04 202.86,519.98 203.35,519.82 203.85,519.56 204.35,519.23 204.84,518.84 205.33,518.43 205.83,518 206.32,517.6 206.82,517.25 207.31,516.96 207.81,516.76 208.31,516.65 208.81,516.66 209.31,516.76 209.81,516.97 210.32,517.25 210.82,517.6" fill="none" stroke="#0c0c0c" stroke-width="1.6" stroke-linejoin="round"/>
<polyline points="162.82,518.4 163.32,518.03 163.81,517.72 164.31,517.5 164.81,517.38 165.31,517.36 165.81,517.45 166.31,517.63 166.82,517.91 167.32,518.25 167.83,518.63 168.33,519.04 168.84,519.44 169.35,519.81 169.85,520.13 170.35,520.37 170.86,520.51 171.36,520.56 171.86,520.5 172.35,520.33 172.85,520.08 173.35,519.75 173.84,519.36 174.33,518.94 174.83,518.52 175.32,518.11 175.82,517.76 176.31,517.47 176.81,517.27 177.31,517.16 177.81,517.17 178.31,517.27 178.81,517.48 179.32,517.76 179.82,518.12 180.33,518.51 180.84,518.92 181.34,519.31 181.85,519.68 182.35,519.98 182.85,520.2 183.36,520.32 183.86,520.35 184.36,520.27 184.85,520.08 185.35,519.81 185.84,519.47 186.34,519.07 186.83,518.65 187.33,518.23 187.82,517.83 188.32,517.49 188.81,517.22 189.31,517.03 189.81,516.95 190.31,516.98 190.81,517.1 191.32,517.32 191.82,517.62 192.32,517.99 192.83,518.38 193.34,518.79 193.84,519.18 194.35,519.54 194.85,519.82 195.36,520.02 195.86,520.13 196.36,520.13 196.86,520.03 197.35,519.83 197.85,519.54 198.34,519.19 198.84,518.78 199.33,518.36 199.83,517.94 200.32,517.55 200.82,517.22 201.31,516.97 201.81,516.81 202.31,516.74 202.81,516.79 203.31,516.94 203.82,517.17 204.32,517.49 204.83,517.86 205.33,518.26 205.84,518.67 206.34,519.05 206.85,519.39 207.35,519.66 207.86,519.85 208.36,519.93 208.86,519.91 209.36,519.79 209.85,519.57 210.35,519.27 210.84,518.9" fill="none" stroke="#0c0c0c" stroke-width="1.6" stroke-linejoin="round"/>
<polyline points="162.8,516.99 162.86,521.1" fill="none" stroke="#0c0c0c" stroke-width="1.8" stroke-linejoin="round"/>
<polyline points="210.8,516.21 210.86,520.3" fill="none" stroke="#0c0c0c" stroke-width="1.8" stroke-linejoin="round"/>
<path d="M166.26 521.04 Q166.04 527.71 163.2 530.61" fill="none" stroke="#0c0c0c" stroke-width="1.8" stroke-linejoin="round" stroke-linecap="round" />
<path d="M207.46 520.36 Q207.88 526.99 210.8 529.79" fill="none" stroke="#0c0c0c" stroke-width="1.8" stroke-linejoin="round" stroke-linecap="round" />
<polyline points="163.25,534.14 163.76,534.56 164.27,534.89 164.77,535.1 165.27,535.18 165.77,535.13 166.27,534.95 166.77,534.65 167.26,534.24 167.76,533.76 168.25,533.23 168.75,532.69 169.24,532.17 169.73,531.7 170.23,531.32 170.73,531.05 171.22,530.9 171.73,530.88 172.23,530.99 172.73,531.24 173.24,531.59 173.75,532.03 174.26,532.52 174.76,533.05 175.27,533.56 175.78,534.03 176.29,534.43 176.79,534.73 177.3,534.91 177.8,534.96 178.3,534.88 178.8,534.66 179.29,534.33 179.79,533.91 180.28,533.41 180.78,532.88 181.27,532.34 181.76,531.83 182.26,531.38 182.75,531.03 183.25,530.78 183.75,530.66 184.25,530.68 184.76,530.83 185.26,531.1 185.77,531.48 186.28,531.93 186.78,532.44 187.29,532.96 187.8,533.47 188.31,533.92 188.82,534.3 189.32,534.57 189.82,534.72 190.33,534.74 190.83,534.62 191.32,534.37 191.82,534.02 192.31,533.57 192.81,533.06 193.3,532.52 193.79,531.99 194.29,531.49 194.78,531.07 195.28,530.74 195.78,530.52 196.28,530.44 196.78,530.49 197.28,530.67 197.79,530.97 198.3,531.37 198.8,531.84 199.31,532.35 199.82,532.87 200.33,533.37 200.84,533.81 201.34,534.16 201.85,534.4 202.35,534.52 202.85,534.5 203.35,534.35 203.85,534.07 204.34,533.69 204.84,533.23 205.33,532.71 205.82,532.17 206.32,531.64 206.81,531.16 207.31,530.76 207.8,530.46 208.3,530.27 208.8,530.22 209.31,530.31 209.81,530.52 210.32,530.85 210.82,531.27" fill="none" stroke="#0c0c0c" stroke-width="1.6" stroke-linejoin="round"/>
<polyline points="163.22,532.1 163.72,531.66 164.21,531.31 164.71,531.08 165.21,530.98 165.71,531.01 166.22,531.18 166.72,531.46 167.23,531.85 167.74,532.32 168.25,532.83 168.75,533.35 169.26,533.85 169.77,534.3 170.28,534.67 170.78,534.92 171.29,535.06 171.79,535.06 172.29,534.92 172.78,534.66 173.28,534.29 173.77,533.84 174.27,533.32 174.76,532.78 175.25,532.25 175.75,531.76 176.24,531.35 176.74,531.03 177.24,530.83 177.74,530.76 178.24,530.83 178.74,531.02 179.25,531.34 179.76,531.75 180.27,532.23 180.77,532.74 181.28,533.26 181.79,533.75 182.3,534.18 182.8,534.52 183.31,534.75 183.81,534.85 184.31,534.82 184.81,534.65 185.31,534.36 185.8,533.97 186.3,533.49 186.79,532.97 187.29,532.43 187.78,531.91 188.27,531.43 188.77,531.04 189.27,530.75 189.76,530.58 190.26,530.55 190.77,530.65 191.27,530.88 191.78,531.22 192.29,531.65 192.79,532.14 193.3,532.66 193.81,533.17 194.32,533.65 194.83,534.06 195.33,534.37 195.84,534.57 196.34,534.64 196.84,534.57 197.34,534.37 197.83,534.05 198.33,533.64 198.82,533.15 199.32,532.62 199.81,532.08 200.3,531.56 200.8,531.11 201.29,530.74 201.79,530.48 202.29,530.35 202.79,530.35 203.29,530.48 203.8,530.74 204.31,531.1 204.81,531.55 205.32,532.05 205.83,532.57 206.34,533.08 206.85,533.54 207.35,533.93 207.86,534.22 208.36,534.38 208.86,534.41 209.36,534.31 209.86,534.08 210.36,533.74 210.85,533.3" fill="none" stroke="#0c0c0c" stroke-width="1.6" stroke-linejoin="round"/>
<polyline points="163.2,530.61 163.27,535.62" fill="none" stroke="#0c0c0c" stroke-width="1.8" stroke-linejoin="round"/>
<polyline points="210.8,529.79 210.87,534.78" fill="none" stroke="#0c0c0c" stroke-width="1.8" stroke-linejoin="round"/>
<path d="M163.67 535.61 Q166.1 537.37 166.36 541.38 L166.43 546.18 L163.63 546.23" fill="none" stroke="#0c0c0c" stroke-width="1.8" stroke-linejoin="round" stroke-linecap="round" />
<path d="M210.47 534.79 Q208.1 536.63 207.96 540.62 L208.03 545.42 L210.83 545.37" fill="none" stroke="#0c0c0c" stroke-width="1.8" stroke-linejoin="round" stroke-linecap="round" />
<line x1="163.63" y1="546.23" x2="210.83" y2="545.37" stroke="#0c0c0c" stroke-width="1.8"/>
<polyline points="163.63,546.23 164.21,586.3" fill="none" stroke="#0c0c0c" stroke-width="1.8" stroke-linejoin="round"/>
<polyline points="210.83,545.37 211.41,585.3" fill="none" stroke="#0c0c0c" stroke-width="1.8" stroke-linejoin="round"/>
<polygon points="161.41,558.5 213.41,557.5 213.46,560.8 161.46,561.8" fill="#fff" stroke="none"/>
<polyline points="158.9,558.15 190.4,557.54 193.43,559.38 198.36,554.59 201.4,557.33 215.9,557.05" fill="none" stroke="#0c0c0c" stroke-width="1" stroke-linejoin="round"/>
<polyline points="158.96,562.25 182.46,561.8 185.49,563.64 190.42,558.84 193.46,561.58 215.96,561.15" fill="none" stroke="#0c0c0c" stroke-width="1" stroke-linejoin="round"/>
<line x1="164.21" y1="586.3" x2="211.41" y2="585.3" stroke="#0c0c0c" stroke-width="1.8"/>
<polyline points="164.21,586.3 169.19,612.03" fill="none" stroke="#0c0c0c" stroke-width="1.8" stroke-linejoin="round"/>
<polyline points="211.41,585.3 208.39,611.14" fill="none" stroke="#0c0c0c" stroke-width="1.8" stroke-linejoin="round"/>
<line x1="169.19" y1="612.03" x2="208.39" y2="611.14" stroke="#0c0c0c" stroke-width="1.8"/>
<polyline points="169.19,612.03 169.66,630.65" fill="none" stroke="#0c0c0c" stroke-width="1.8" stroke-linejoin="round"/>
<polyline points="208.39,611.14 208.06,629.73" fill="none" stroke="#0c0c0c" stroke-width="1.8" stroke-linejoin="round"/>
<polyline points="166.4,626.22 186.4,625.75 188.92,627.29 191.87,623.82 194.4,625.56 210.4,625.18" fill="none" stroke="#0c0c0c" stroke-width="1" stroke-linejoin="round"/>
<line x1="169.66" y1="630.65" x2="208.06" y2="629.73" stroke="#0c0c0c" stroke-width="1.8"/>
<clipPath id="hc"><path d="M169.66 630.65 L208.06 629.73 L210.33 702.8 L170.63 703.95Z M175.86 630.5 L176.07 644.91 L179.43 649.03 L179.53 655.44 L176.55 657.12 L176.86 678.33 L178.36 678.29 L178.55 691 L189.47 699.2 L200.95 690.37 L200.76 677.68 L202.16 677.65 L201.85 656.46 L198.83 654.94 L198.73 648.55 L202.87 644.25 L202.66 629.86Z" clip-rule="evenodd"/></clipPath>
<g clip-path="url(#hc)" stroke="#0c0c0c" stroke-width="0.8"><line x1="150" y1="594" x2="230" y2="514"/><line x1="150" y1="600.6" x2="230" y2="520.6"/><line x1="150" y1="607.2" x2="230" y2="527.2"/><line x1="150" y1="613.8" x2="230" y2="533.8"/><line x1="150" y1="620.4" x2="230" y2="540.4"/><line x1="150" y1="627" x2="230" y2="547"/><line x1="150" y1="633.6" x2="230" y2="553.6"/><line x1="150" y1="640.2" x2="230" y2="560.2"/><line x1="150" y1="646.8" x2="230" y2="566.8"/><line x1="150" y1="653.4" x2="230" y2="573.4"/><line x1="150" y1="660" x2="230" y2="580"/><line x1="150" y1="666.6" x2="230" y2="586.6"/><line x1="150" y1="673.2" x2="230" y2="593.2"/><line x1="150" y1="679.8" x2="230" y2="599.8"/><line x1="150" y1="686.4" x2="230" y2="606.4"/><line x1="150" y1="693" x2="230" y2="613"/><line x1="150" y1="699.6" x2="230" y2="619.6"/><line x1="150" y1="706.2" x2="230" y2="626.2"/><line x1="150" y1="712.8" x2="230" y2="632.8"/><line x1="150" y1="719.4" x2="230" y2="639.4"/><line x1="150" y1="726" x2="230" y2="646"/><line x1="150" y1="732.6" x2="230" y2="652.6"/><line x1="150" y1="739.2" x2="230" y2="659.2"/><line x1="150" y1="745.8" x2="230" y2="665.8"/><line x1="150" y1="752.4" x2="230" y2="672.4"/><line x1="150" y1="759" x2="230" y2="679"/><line x1="150" y1="765.6" x2="230" y2="685.6"/><line x1="150" y1="772.2" x2="230" y2="692.2"/><line x1="150" y1="778.8" x2="230" y2="698.8"/><line x1="150" y1="785.4" x2="230" y2="705.4"/><line x1="150" y1="792" x2="230" y2="712"/><line x1="150" y1="798.6" x2="230" y2="718.6"/><line x1="150" y1="805.2" x2="230" y2="725.2"/><line x1="150" y1="811.8" x2="230" y2="731.8"/><line x1="150" y1="818.4" x2="230" y2="738.4"/><line x1="150" y1="825" x2="230" y2="745"/><line x1="150" y1="831.6" x2="230" y2="751.6"/><line x1="150" y1="838.2" x2="230" y2="758.2"/><line x1="150" y1="844.8" x2="230" y2="764.8"/><line x1="150" y1="851.4" x2="230" y2="771.4"/></g>
<polyline points="169.66,630.65 170.63,703.95" fill="none" stroke="#0c0c0c" stroke-width="1.8" stroke-linejoin="round"/>
<polyline points="208.06,629.73 210.33,702.8" fill="none" stroke="#0c0c0c" stroke-width="1.8" stroke-linejoin="round"/>
<polyline points="175.86,630.5 176.07,644.91 179.43,649.03 179.53,655.44 176.55,657.12 176.86,678.33 178.36,678.29 178.55,691 189.47,699.2 200.95,690.37 200.76,677.68 202.16,677.65 201.85,656.46 198.83,654.94 198.73,648.55 202.87,644.25 202.66,629.86" fill="none" stroke="#0c0c0c" stroke-width="1.8" stroke-linejoin="round"/>
<line x1="176.07" y1="644.91" x2="202.87" y2="644.25" stroke="#0c0c0c" stroke-width="1"/>
<line x1="179.43" y1="649.03" x2="198.73" y2="648.55" stroke="#0c0c0c" stroke-width="1.5"/>
<line x1="179.53" y1="655.44" x2="198.83" y2="654.94" stroke="#0c0c0c" stroke-width="1.5"/>
<line x1="176.55" y1="657.12" x2="201.85" y2="656.46" stroke="#0c0c0c" stroke-width="1"/>
<line x1="176.86" y1="678.33" x2="202.16" y2="677.65" stroke="#0c0c0c" stroke-width="1.5"/>
<line x1="178.4" y1="681.1" x2="200.8" y2="680.48" stroke="#0c0c0c" stroke-width="1.4"/>
<line x1="178.46" y1="684.9" x2="200.86" y2="684.28" stroke="#0c0c0c" stroke-width="1.4"/>
<line x1="178.55" y1="691" x2="200.95" y2="690.37" stroke="#0c0c0c" stroke-width="1"/>
<polyline points="169.66,630.65 175.95,636.31" fill="none" stroke="#0c0c0c" stroke-width="1" stroke-linejoin="round"/>
<polyline points="208.06,629.73 202.75,635.65" fill="none" stroke="#0c0c0c" stroke-width="1" stroke-linejoin="round"/>
<polyline points="175.86,630.5 171.75,636.91" fill="none" stroke="#0c0c0c" stroke-width="1" stroke-linejoin="round"/>
<polyline points="202.66,629.86 206.35,636.07" fill="none" stroke="#0c0c0c" stroke-width="1" stroke-linejoin="round"/>
<polyline points="167.54,704.44 188.54,703.83 191.56,705.64 196.5,700.8 199.54,703.51 213.54,703.11" fill="none" stroke="#0c0c0c" stroke-width="1" stroke-linejoin="round"/>
<polyline points="167.54,704.44 180.54,704.06 183.56,705.87 188.5,701.03 191.54,703.74 213.54,703.11" fill="none" stroke="#0c0c0c" stroke-width="1" stroke-linejoin="round"/>
<path d="M170.63 704.15 Q170.99 707.94 173.4 708.87 L173.68 727.89" fill="none" stroke="#0c0c0c" stroke-width="1.8" stroke-linejoin="round" stroke-linecap="round" />
<path d="M210.33 703 Q210.09 706.8 208.7 707.84 L208.98 726.83" fill="none" stroke="#0c0c0c" stroke-width="1.8" stroke-linejoin="round" stroke-linecap="round" />
<line x1="173.4" y1="708.87" x2="208.7" y2="707.84" stroke="#0c0c0c" stroke-width="1"/>
<line x1="173.47" y1="713.18" x2="208.77" y2="712.14" stroke="#0c0c0c" stroke-width="1.8"/>
<polygon points="171.76,719.44 210.76,718.27 210.81,721.57 171.81,722.74" fill="#fff" stroke="none"/>
<polyline points="168.75,719.13 189.75,718.5 192.78,720.31 197.71,715.46 200.75,718.17 213.25,717.8" fill="none" stroke="#0c0c0c" stroke-width="1" stroke-linejoin="round"/>
<polyline points="168.81,723.23 181.81,722.84 184.84,724.65 189.77,719.8 192.81,722.51 213.31,721.89" fill="none" stroke="#0c0c0c" stroke-width="1" stroke-linejoin="round"/>
<line x1="173.68" y1="727.89" x2="208.98" y2="726.83" stroke="#0c0c0c" stroke-width="1.8"/>
<polygon points="170.79,728.57 211.89,727.34 212.45,765.64 171.35,766.87" fill="none" stroke="#0c0c0c" stroke-width="1.8" stroke-linejoin="round"/>
<polygon points="169.19,749.43 214.19,748.08 214.25,751.68 169.25,753.03" fill="#fff" stroke="none"/>
<polyline points="166.69,749.11 190.19,748.4 193.22,750.21 198.15,745.36 201.19,748.07 217.19,747.59" fill="none" stroke="#0c0c0c" stroke-width="1" stroke-linejoin="round"/>
<polyline points="166.75,753.5 182.25,753.04 185.28,754.85 190.21,750 193.25,752.71 217.25,751.99" fill="none" stroke="#0c0c0c" stroke-width="1" stroke-linejoin="round"/>
<polyline points="171.35,766.87 179.24,773.14 179.44,786.34" fill="none" stroke="#0c0c0c" stroke-width="1.8" stroke-linejoin="round"/>
<polyline points="212.45,765.64 205.14,772.36 205.34,785.56" fill="none" stroke="#0c0c0c" stroke-width="1.8" stroke-linejoin="round"/>
<line x1="179.24" y1="773.14" x2="205.14" y2="772.36" stroke="#0c0c0c" stroke-width="1.8"/>
<polygon points="177.62,778.39 207.62,777.49 207.67,780.69 177.67,781.59" fill="#fff" stroke="none"/>
<polyline points="172.12,778.25 188.62,777.76 191.64,779.57 196.57,774.72 199.62,777.43 210.22,777.11" fill="none" stroke="#0c0c0c" stroke-width="1" stroke-linejoin="round"/>
<polyline points="172.17,782.15 180.67,781.9 183.7,783.71 188.63,778.86 191.67,781.57 210.27,781.01" fill="none" stroke="#0c0c0c" stroke-width="1" stroke-linejoin="round"/>
<line x1="179.44" y1="786.34" x2="205.34" y2="785.56" stroke="#0c0c0c" stroke-width="1"/>
<polyline points="179.44,786.34 173.53,793.12 173.82,813.12 180.77,823.12" fill="none" stroke="#0c0c0c" stroke-width="1.8" stroke-linejoin="round"/>
<polyline points="205.34,785.56 210.92,791.4 211.21,811.2 206.17,821.95" fill="none" stroke="#0c0c0c" stroke-width="1.8" stroke-linejoin="round"/>
<line x1="173.53" y1="792.92" x2="210.93" y2="791.8" stroke="#0c0c0c" stroke-width="1.8"/>
<line x1="173.57" y1="795.52" x2="210.97" y2="794.4" stroke="#0c0c0c" stroke-width="1"/>
<line x1="173.82" y1="812.92" x2="211.22" y2="811.8" stroke="#0c0c0c" stroke-width="1.8"/>
<line x1="180.77" y1="823.12" x2="206.17" y2="822.35" stroke="#0c0c0c" stroke-width="1.8"/>
<line x1="267.4" y1="117.7" x2="269.2" y2="250.3" stroke="#0c0c0c" stroke-width="0.7" stroke-dasharray="14 2.5 2 2.5"/>
<polyline points="255,129 281.3,128.8 287.8,138.4 288.2,156.2" fill="none" stroke="#0c0c0c" stroke-width="1.8" stroke-linejoin="round"/>
<polyline points="255,129 247.6,138.8 248,156.6" fill="none" stroke="#0c0c0c" stroke-width="1.8" stroke-linejoin="round"/>
<line x1="247.6" y1="138.8" x2="287.8" y2="138.4" stroke="#0c0c0c" stroke-width="1"/>
<line x1="248" y1="156.6" x2="288.2" y2="156.2" stroke="#0c0c0c" stroke-width="1.8"/>
<line x1="248.2" y1="159.7" x2="288.2" y2="159.3" stroke="#0c0c0c" stroke-width="1"/>
<path d="M248 156.6 L248.2 159.7 Q249 164 254 165.9 L254.3 185.9 Q249 188 248.3 193.1 L248.8 222.8" fill="none" stroke="#0c0c0c" stroke-width="1.8" stroke-linejoin="round" stroke-linecap="round" />
<path d="M288.2 156.2 L288.3 159.3 Q287.6 163.6 282.5 165.6 L282.8 185.6 Q287.8 187.6 288.6 192.7 L289.0 222.4" fill="none" stroke="#0c0c0c" stroke-width="1.8" stroke-linejoin="round" stroke-linecap="round" />
<line x1="254" y1="165.9" x2="282.5" y2="165.6" stroke="#0c0c0c" stroke-width="1.8"/>
<line x1="254.3" y1="185.9" x2="282.8" y2="185.6" stroke="#0c0c0c" stroke-width="1.8"/>
<line x1="248.3" y1="193.1" x2="288.6" y2="192.7" stroke="#0c0c0c" stroke-width="1"/>
<polygon points="243,222.9 294,222.4 296,226.4 296.2,242.8 241,243.3 240.6,226.9" fill="none" stroke="#0c0c0c" stroke-width="1.8" stroke-linejoin="round"/>
<line x1="240.6" y1="226.9" x2="296" y2="226.4" stroke="#0c0c0c" stroke-width="1"/>
<line x1="243.71" y1="227.2" x2="243.86" y2="243" stroke="#0c0c0c" stroke-width="1"/>
<line x1="246.61" y1="227.2" x2="246.76" y2="243" stroke="#0c0c0c" stroke-width="1"/>
<line x1="249.52" y1="227.2" x2="249.67" y2="243" stroke="#0c0c0c" stroke-width="1"/>
<line x1="252.42" y1="227.2" x2="252.57" y2="243" stroke="#0c0c0c" stroke-width="1"/>
<line x1="255.33" y1="227.2" x2="255.48" y2="243" stroke="#0c0c0c" stroke-width="1"/>
<line x1="258.23" y1="227.2" x2="258.38" y2="243" stroke="#0c0c0c" stroke-width="1"/>
<line x1="261.14" y1="227.2" x2="261.29" y2="243" stroke="#0c0c0c" stroke-width="1"/>
<line x1="264.04" y1="227.2" x2="264.19" y2="243" stroke="#0c0c0c" stroke-width="1"/>
<line x1="266.95" y1="227.2" x2="267.1" y2="243" stroke="#0c0c0c" stroke-width="1"/>
<line x1="269.85" y1="227.2" x2="270" y2="243" stroke="#0c0c0c" stroke-width="1"/>
<line x1="272.76" y1="227.2" x2="272.91" y2="243" stroke="#0c0c0c" stroke-width="1"/>
<line x1="275.66" y1="227.2" x2="275.81" y2="243" stroke="#0c0c0c" stroke-width="1"/>
<line x1="278.57" y1="227.2" x2="278.72" y2="243" stroke="#0c0c0c" stroke-width="1"/>
<line x1="281.47" y1="227.2" x2="281.62" y2="243" stroke="#0c0c0c" stroke-width="1"/>
<line x1="284.38" y1="227.2" x2="284.53" y2="243" stroke="#0c0c0c" stroke-width="1"/>
<line x1="287.28" y1="227.2" x2="287.43" y2="243" stroke="#0c0c0c" stroke-width="1"/>
<line x1="290.19" y1="227.2" x2="290.34" y2="243" stroke="#0c0c0c" stroke-width="1"/>
<line x1="293.09" y1="227.2" x2="293.24" y2="243" stroke="#0c0c0c" stroke-width="1"/>
<line x1="248.4" y1="144" x2="304.9" y2="143.4" stroke="#0c0c0c" stroke-width="1"/>
<polygon points="248.4,144 257,141.76 255.8,144 257,146.24" fill="#0c0c0c"/>
<polygon points="287.6,143.6 279,145.84 280.2,143.6 279,141.36" fill="#0c0c0c"/>
<text transform="translate(299.2 150.4) rotate(180)" x="0" y="3.67" font-family='"Liberation Sans", "DejaVu Sans", sans-serif' font-size="10.5" font-style="italic" font-weight="normal" text-anchor="middle" fill="#0c0c0c" stroke="#0c0c0c" stroke-width="0.22">D</text>
<text transform="translate(293.21 148.3) rotate(180)" x="0" y="2.52" font-family='"Liberation Sans", "DejaVu Sans", sans-serif' font-size="7.2" font-style="italic" font-weight="normal" text-anchor="middle" fill="#0c0c0c" stroke="#0c0c0c" stroke-width="0.22">7</text>
<line x1="309.6" y1="127.6" x2="310.4" y2="222.2" stroke="#0c0c0c" stroke-width="1"/>
<polygon points="309.6,127.6 311.91,136.18 309.66,135 307.44,136.22" fill="#0c0c0c"/>
<polygon points="310.4,222.2 308.09,213.62 310.34,214.8 312.56,213.58" fill="#0c0c0c"/>
<line x1="289" y1="222.4" x2="317.6" y2="222.1" stroke="#0c0c0c" stroke-width="1"/>
<text transform="translate(303.4 183.5) rotate(-90)" x="0" y="3.85" font-family='"Liberation Sans", "DejaVu Sans", sans-serif' font-size="11" font-style="italic" font-weight="normal" text-anchor="middle" fill="#0c0c0c" textLength="16" lengthAdjust="spacingAndGlyphs" stroke="#0c0c0c" stroke-width="0.22">125</text>
<text transform="translate(298.2 173.4) rotate(-90)" x="0" y="2.38" font-family='"DejaVu Sans", "Liberation Sans", sans-serif' font-size="6.6" text-anchor="middle" fill="#0c0c0c">✱</text>
<line x1="488.3" y1="316.5" x2="488.3" y2="112" stroke="#0c0c0c" stroke-width="1"/>
<polygon points="488.3,110.5 490.3,120.5 488.3,119.1 486.3,120.5" fill="#0c0c0c"/>
<line x1="498" y1="245.6" x2="357" y2="247.2" stroke="#0c0c0c" stroke-width="1"/>
<polygon points="355,247.2 365,245.2 363.6,247.2 365,249.2" fill="#0c0c0c"/>
<text transform="translate(494.8 116.2) rotate(-90)" x="0" y="3.67" font-family='"Liberation Sans", "DejaVu Sans", sans-serif' font-size="10.5" font-style="italic" font-weight="normal" text-anchor="middle" fill="#0c0c0c" stroke="#0c0c0c" stroke-width="0.22">x</text>
<text transform="translate(359 253) rotate(-90)" x="0" y="3.67" font-family='"Liberation Sans", "DejaVu Sans", sans-serif' font-size="10.5" font-style="italic" font-weight="normal" text-anchor="middle" fill="#0c0c0c" stroke="#0c0c0c" stroke-width="0.22">y</text>
<text transform="translate(495.6 202) rotate(-90)" x="0" y="4.02" font-family='"Liberation Sans", "DejaVu Sans", sans-serif' font-size="11.5" font-style="italic" font-weight="normal" text-anchor="middle" fill="#0c0c0c" textLength="84" lengthAdjust="spacingAndGlyphs" stroke="none">0-ось протяжки</text>
<line x1="463.7" y1="123.4" x2="463.7" y2="161.5" stroke="#0c0c0c" stroke-width="1"/>
<line x1="463.7" y1="127.6" x2="488.3" y2="127.6" stroke="#0c0c0c" stroke-width="1"/>
<polygon points="463.7,127.6 472.3,125.36 471.1,127.6 472.3,129.84" fill="#0c0c0c"/>
<polygon points="488.3,127.6 479.7,129.84 480.9,127.6 479.7,125.36" fill="#0c0c0c"/>
<text transform="translate(477 134.4) rotate(180)" x="0" y="3.5" font-family='"Liberation Sans", "DejaVu Sans", sans-serif' font-size="10" font-style="italic" font-weight="normal" text-anchor="middle" fill="#0c0c0c" stroke="#0c0c0c" stroke-width="0.22">y</text>
<text transform="translate(472.18 132.4) rotate(180)" x="0" y="2.52" font-family='"Liberation Sans", "DejaVu Sans", sans-serif' font-size="7.2" font-style="italic" font-weight="normal" text-anchor="middle" fill="#0c0c0c" stroke="#0c0c0c" stroke-width="0.22">0</text>
<line x1="456.3" y1="152.2" x2="482.2" y2="152.2" stroke="#0c0c0c" stroke-width="1"/>
<line x1="463.7" y1="152.2" x2="418.2" y2="215.6" stroke="#0c0c0c" stroke-width="1"/>
<polygon points="418.2,215.6 421.4,207.31 422.51,209.59 425.03,209.92" fill="#0c0c0c"/>
<text transform="translate(435 182) rotate(-54)" x="0" y="3.67" font-family='"Liberation Sans", "DejaVu Sans", sans-serif' font-size="10.5" font-style="italic" font-weight="normal" text-anchor="middle" fill="#0c0c0c" stroke="#0c0c0c" stroke-width="0.22">R</text>
<line x1="476.8" y1="152.2" x2="476.8" y2="245.6" stroke="#0c0c0c" stroke-width="1"/>
<polygon points="476.8,152.2 479.04,160.8 476.8,159.6 474.56,160.8" fill="#0c0c0c"/>
<polygon points="476.8,245.6 474.56,237 476.8,238.2 479.04,237" fill="#0c0c0c"/>
<text transform="translate(470 201.5) rotate(-90)" x="0" y="3.67" font-family='"Liberation Sans", "DejaVu Sans", sans-serif' font-size="10.5" font-style="italic" font-weight="normal" text-anchor="middle" fill="#0c0c0c" stroke="#0c0c0c" stroke-width="0.22">x</text>
<text transform="translate(472.1 196.56) rotate(-90)" x="0" y="2.52" font-family='"Liberation Sans", "DejaVu Sans", sans-serif' font-size="7.2" font-style="italic" font-weight="normal" text-anchor="middle" fill="#0c0c0c" stroke="#0c0c0c" stroke-width="0.22">0</text>
<line x1="411.3" y1="188.8" x2="404.6" y2="203.8" stroke="#0c0c0c" stroke-width="2"/>
<path d="M404.6 203.8 Q407 207.5 409.5 210 Q424 223 442.4 228.8" fill="none" stroke="#0c0c0c" stroke-width="2" stroke-linejoin="round" stroke-linecap="round" />
<line x1="442.4" y1="228.8" x2="449.4" y2="230.8" stroke="#0c0c0c" stroke-width="0.8"/>
<polyline points="449.4,230.8 458,232.7 457.4,256.3" fill="none" stroke="#0c0c0c" stroke-width="2" stroke-linejoin="round"/>
<line x1="448.5" y1="223.4" x2="448.5" y2="273.4" stroke="#0c0c0c" stroke-width="1"/>
<line x1="448.5" y1="269" x2="488.3" y2="269" stroke="#0c0c0c" stroke-width="1"/>
<polygon points="448.5,269 457.1,266.76 455.9,269 457.1,271.24" fill="#0c0c0c"/>
<polygon points="488.3,269 479.7,271.24 480.9,269 479.7,266.76" fill="#0c0c0c"/>
<text transform="translate(471.4 275.2) rotate(180)" x="0" y="3.5" font-family='"Liberation Sans", "DejaVu Sans", sans-serif' font-size="10" font-style="italic" font-weight="normal" text-anchor="middle" fill="#0c0c0c" stroke="#0c0c0c" stroke-width="0.22">y</text>
<text transform="translate(466.58 273.2) rotate(180)" x="0" y="2.52" font-family='"Liberation Sans", "DejaVu Sans", sans-serif' font-size="7.2" font-style="italic" font-weight="normal" text-anchor="middle" fill="#0c0c0c" stroke="#0c0c0c" stroke-width="0.22">1</text>
<text transform="translate(463.7 283.6) rotate(180)" x="0" y="2.38" font-family='"DejaVu Sans", "Liberation Sans", sans-serif' font-size="6.6" text-anchor="middle" fill="#0c0c0c">✱</text>
<line x1="428.6" y1="216.9" x2="428.6" y2="294.3" stroke="#0c0c0c" stroke-width="1"/>
<line x1="428.6" y1="289" x2="488.3" y2="289" stroke="#0c0c0c" stroke-width="1"/>
<polygon points="428.6,289 437.2,286.76 436,289 437.2,291.24" fill="#0c0c0c"/>
<polygon points="488.3,289 479.7,291.24 480.9,289 479.7,286.76" fill="#0c0c0c"/>
<text transform="translate(460.4 294.6) rotate(180)" x="0" y="3.5" font-family='"Liberation Sans", "DejaVu Sans", sans-serif' font-size="10" font-style="italic" font-weight="normal" text-anchor="middle" fill="#0c0c0c" stroke="#0c0c0c" stroke-width="0.22">y</text>
<text transform="translate(455.58 292.6) rotate(180)" x="0" y="2.52" font-family='"Liberation Sans", "DejaVu Sans", sans-serif' font-size="7.2" font-style="italic" font-weight="normal" text-anchor="middle" fill="#0c0c0c" stroke="#0c0c0c" stroke-width="0.22">2</text>
<text transform="translate(452.7 303.4) rotate(180)" x="0" y="2.38" font-family='"DejaVu Sans", "Liberation Sans", sans-serif' font-size="6.6" text-anchor="middle" fill="#0c0c0c">✱</text>
<line x1="409.5" y1="205" x2="410.3" y2="311.6" stroke="#0c0c0c" stroke-width="1"/>
<line x1="410.3" y1="307.1" x2="488.3" y2="307.1" stroke="#0c0c0c" stroke-width="1"/>
<polygon points="410.3,307.1 418.9,304.86 417.7,307.1 418.9,309.34" fill="#0c0c0c"/>
<polygon points="488.3,307.1 479.7,309.34 480.9,307.1 479.7,304.86" fill="#0c0c0c"/>
<text transform="translate(456.6 312) rotate(180)" x="0" y="3.5" font-family='"Liberation Sans", "DejaVu Sans", sans-serif' font-size="10" font-style="italic" font-weight="normal" text-anchor="middle" fill="#0c0c0c" stroke="#0c0c0c" stroke-width="0.22">y</text>
<text transform="translate(451.78 310) rotate(180)" x="0" y="2.52" font-family='"Liberation Sans", "DejaVu Sans", sans-serif' font-size="7.2" font-style="italic" font-weight="normal" text-anchor="middle" fill="#0c0c0c" stroke="#0c0c0c" stroke-width="0.22">3</text>
<text transform="translate(448.5 321) rotate(180)" x="0" y="2.38" font-family='"DejaVu Sans", "Liberation Sans", sans-serif' font-size="6.6" text-anchor="middle" fill="#0c0c0c">✱</text>
<line x1="370" y1="210.2" x2="370" y2="247" stroke="#0c0c0c" stroke-width="1"/>
<polygon points="370,210.2 372.24,218.8 370,217.6 367.76,218.8" fill="#0c0c0c"/>
<polygon points="370,247 367.76,238.4 370,239.6 372.24,238.4" fill="#0c0c0c"/>
<line x1="365.3" y1="210.2" x2="415.8" y2="210" stroke="#0c0c0c" stroke-width="1"/>
<text transform="translate(364.6 229) rotate(-90)" x="0" y="3.67" font-family='"Liberation Sans", "DejaVu Sans", sans-serif' font-size="10.5" font-style="italic" font-weight="normal" text-anchor="middle" fill="#0c0c0c" stroke="#0c0c0c" stroke-width="0.22">x</text>
<text transform="translate(366.7 224.06) rotate(-90)" x="0" y="2.52" font-family='"Liberation Sans", "DejaVu Sans", sans-serif' font-size="7.2" font-style="italic" font-weight="normal" text-anchor="middle" fill="#0c0c0c" stroke="#0c0c0c" stroke-width="0.22">3</text>
<text transform="translate(357.4 224.2) rotate(-90)" x="0" y="2.38" font-family='"DejaVu Sans", "Liberation Sans", sans-serif' font-size="6.6" text-anchor="middle" fill="#0c0c0c">✱</text>
<line x1="385" y1="223.3" x2="385" y2="246.8" stroke="#0c0c0c" stroke-width="1"/>
<polygon points="385,223.3 387.14,231.55 385,230.4 382.86,231.55" fill="#0c0c0c"/>
<polygon points="385,246.8 382.86,238.55 385,239.71 387.14,238.55" fill="#0c0c0c"/>
<line x1="379.5" y1="223.3" x2="399.5" y2="223.2" stroke="#0c0c0c" stroke-width="1"/>
<line x1="399.5" y1="223.2" x2="434" y2="222.9" stroke="#0c0c0c" stroke-width="1" stroke-dasharray="6 3"/>
<text transform="translate(377.4 235.2) rotate(-90)" x="0" y="3.67" font-family='"Liberation Sans", "DejaVu Sans", sans-serif' font-size="10.5" font-style="italic" font-weight="normal" text-anchor="middle" fill="#0c0c0c" stroke="#0c0c0c" stroke-width="0.22">x</text>
<text transform="translate(379.5 230.26) rotate(-90)" x="0" y="2.52" font-family='"Liberation Sans", "DejaVu Sans", sans-serif' font-size="7.2" font-style="italic" font-weight="normal" text-anchor="middle" fill="#0c0c0c" stroke="#0c0c0c" stroke-width="0.22">2</text>
<text transform="translate(372.6 229.4) rotate(-90)" x="0" y="2.38" font-family='"DejaVu Sans", "Liberation Sans", sans-serif' font-size="6.6" text-anchor="middle" fill="#0c0c0c">✱</text>
<line x1="398.6" y1="215.4" x2="398.6" y2="231.4" stroke="#0c0c0c" stroke-width="1"/>
<polygon points="398.6,231.4 396.65,223.9 398.6,224.95 400.55,223.9" fill="#0c0c0c"/>
<line x1="398.6" y1="246.7" x2="398.6" y2="260.8" stroke="#0c0c0c" stroke-width="1"/>
<polygon points="398.6,246.7 400.55,254.2 398.6,253.15 396.65,254.2" fill="#0c0c0c"/>
<line x1="398.6" y1="231.4" x2="398.6" y2="246.7" stroke="#0c0c0c" stroke-width="1"/>
<line x1="393" y1="231.5" x2="457.6" y2="230.9" stroke="#0c0c0c" stroke-width="1" stroke-dasharray="7 3"/>
<text transform="translate(392.2 240) rotate(-90)" x="0" y="3.67" font-family='"Liberation Sans", "DejaVu Sans", sans-serif' font-size="10.5" font-style="italic" font-weight="normal" text-anchor="middle" fill="#0c0c0c" stroke="#0c0c0c" stroke-width="0.22">x</text>
<text transform="translate(394.3 235.06) rotate(-90)" x="0" y="2.52" font-family='"Liberation Sans", "DejaVu Sans", sans-serif' font-size="7.2" font-style="italic" font-weight="normal" text-anchor="middle" fill="#0c0c0c" stroke="#0c0c0c" stroke-width="0.22">1</text>
<text transform="translate(388.2 234.6) rotate(-90)" x="0" y="2.38" font-family='"DejaVu Sans", "Liberation Sans", sans-serif' font-size="6.6" text-anchor="middle" fill="#0c0c0c">✱</text>
<line x1="305.5" y1="377.5" x2="305.5" y2="460.4" stroke="#0c0c0c" stroke-width="1"/>
<line x1="363.3" y1="401.7" x2="302" y2="465.3" stroke="#0c0c0c" stroke-width="1"/>
<path d="M306.6 384.6 A78 78 0 0 1 358.8 404" fill="none" stroke="#0c0c0c" stroke-width="1" stroke-linejoin="round" stroke-linecap="round" />
<polygon points="306.4,384.6 315.04,382.54 313.79,384.75 314.95,387.01" fill="#0c0c0c"/>
<polygon points="359.2,404.4 351.48,400.01 353.9,399.24 354.59,396.8" fill="#0c0c0c"/>
<polyline points="335.3,389 327.8,377.5 328.2,357.1" fill="none" stroke="#0c0c0c" stroke-width="1" stroke-linejoin="round"/>
<text transform="translate(321.6 366.6) rotate(-84)" x="0" y="3.67" font-family='"Liberation Sans", "DejaVu Sans", sans-serif' font-size="10.5" font-style="italic" font-weight="normal" text-anchor="middle" fill="#0c0c0c" textLength="17" lengthAdjust="spacingAndGlyphs" stroke="#0c0c0c" stroke-width="0.22">45°</text>
<path d="M317.4 396.6 Q320.4 397.0 322.0 399.6 Q323.0 401.4 321.8 403.6 Q316 412 313.0 419.8 Q309.2 430 307.4 440 Q306.2 445 306.3 448.4 L317.2 459.7 L340.6 457.0" fill="none" stroke="#0c0c0c" stroke-width="2" stroke-linejoin="round" stroke-linecap="round" />
<path d="M340.6 457 Q343.8 440 339.4 421 Q335.5 407 326.4 398.4 Q321 393.6 317.8 394.2 Q315.6 395.0 317.4 396.6" fill="none" stroke="#0c0c0c" stroke-width="0.9" stroke-linejoin="round" stroke-linecap="round" />
<line x1="305.8" y1="444.8" x2="285.4" y2="465.3" stroke="#0c0c0c" stroke-width="1"/>
<line x1="306.6" y1="450.1" x2="287.7" y2="468.3" stroke="#0c0c0c" stroke-width="1"/>
<line x1="275.3" y1="447.9" x2="287.3" y2="460.3" stroke="#0c0c0c" stroke-width="1"/>
<polygon points="287.7,460.7 280.11,456.08 282.55,455.39 283.32,452.97" fill="#0c0c0c"/>
<line x1="305.1" y1="478.1" x2="294.1" y2="467.2" stroke="#0c0c0c" stroke-width="1"/>
<polygon points="293.7,466.8 301.38,471.27 298.95,472.01 298.23,474.44" fill="#0c0c0c"/>
<text transform="translate(298.6 480.6) rotate(-135)" x="0" y="4.38" font-family='"Liberation Sans", "DejaVu Sans", sans-serif' font-size="12.5" font-style="italic" font-weight="normal" text-anchor="middle" fill="#0c0c0c" stroke="#0c0c0c" stroke-width="0.22">f</text>
<text transform="translate(280.8 424.4) rotate(-90)" x="0" y="4.02" font-family='"Liberation Sans", "DejaVu Sans", sans-serif' font-size="11.5" font-style="italic" font-weight="normal" text-anchor="middle" fill="#0c0c0c" textLength="10" lengthAdjust="spacingAndGlyphs" stroke="#0c0c0c" stroke-width="0.22">Ж</text>
<polygon points="321.6,516.3 347.4,523.3 339.9,544.1 336.6,546.2 324.9,546.9" fill="none" stroke="#0c0c0c" stroke-width="1.5" stroke-linejoin="round"/>
<line x1="336.4" y1="520.6" x2="336.6" y2="572.4" stroke="#0c0c0c" stroke-width="1"/>
<line x1="336.5" y1="522" x2="342.5" y2="571.5" stroke="#0c0c0c" stroke-width="1"/>
<clipPath id="hee"><path d="M336.4 520.4 L347.4 523.3 L339.6 544.6 Z"/></clipPath>
<g clip-path="url(#hee)" stroke="#0c0c0c" stroke-width="0.9"><line x1="343.91" y1="501.42" x2="370.13" y2="534.98"/><line x1="341.07" y1="503.64" x2="367.29" y2="537.2"/><line x1="338.24" y1="505.85" x2="364.46" y2="539.41"/><line x1="335.4" y1="508.07" x2="361.62" y2="541.63"/><line x1="332.56" y1="510.29" x2="358.78" y2="543.85"/><line x1="329.73" y1="512.5" x2="355.95" y2="546.06"/><line x1="326.89" y1="514.72" x2="353.11" y2="548.28"/><line x1="324.05" y1="516.94" x2="350.27" y2="550.5"/><line x1="321.22" y1="519.15" x2="347.44" y2="552.71"/><line x1="318.38" y1="521.37" x2="344.6" y2="554.93"/><line x1="315.54" y1="523.59" x2="341.76" y2="557.15"/><line x1="312.71" y1="525.8" x2="338.93" y2="559.36"/><line x1="309.87" y1="528.02" x2="336.09" y2="561.58"/></g>
<line x1="336.4" y1="520.4" x2="339.7" y2="544.4" stroke="#0c0c0c" stroke-width="1.2"/>
<path d="M319 565 Q328 568 336.5 568.2" fill="none" stroke="#0c0c0c" stroke-width="1" stroke-linejoin="round" stroke-linecap="round" />
<polygon points="336.5,568.2 327.8,570 329.11,567.83 328.02,565.54" fill="#0c0c0c"/>
<path d="M359 562.4 Q350 565.8 342.9 567.9" fill="none" stroke="#0c0c0c" stroke-width="1" stroke-linejoin="round" stroke-linecap="round" />
<polygon points="342.9,567.9 350.7,563.64 350.08,566.11 351.79,567.98" fill="#0c0c0c"/>
<line x1="319" y1="549" x2="319" y2="565" stroke="#0c0c0c" stroke-width="1"/>
<text transform="translate(313.2 558.4) rotate(-90)" x="0" y="3.67" font-family='"Liberation Sans", "DejaVu Sans", sans-serif' font-size="10.5" font-style="italic" font-weight="normal" text-anchor="middle" fill="#0c0c0c" textLength="11" lengthAdjust="spacingAndGlyphs" stroke="#0c0c0c" stroke-width="0.22">3°</text>
<text transform="translate(305.4 531.6) rotate(-90)" x="0" y="4.38" font-family='"Liberation Sans", "DejaVu Sans", sans-serif' font-size="12.5" font-style="italic" font-weight="normal" text-anchor="middle" fill="#0c0c0c" textLength="19" lengthAdjust="spacingAndGlyphs" stroke="none">Е-Е</text>
<line x1="298.1" y1="581.8" x2="340.2" y2="622.7" stroke="#0c0c0c" stroke-width="1"/>
<line x1="300.5" y1="664.4" x2="340.2" y2="622.7" stroke="#0c0c0c" stroke-width="1"/>
<line x1="322.6" y1="604.5" x2="340.2" y2="622.7" stroke="#0c0c0c" stroke-width="2"/>
<line x1="322.6" y1="641.7" x2="340.2" y2="622.7" stroke="#0c0c0c" stroke-width="2"/>
<line x1="322.6" y1="604.5" x2="328.1" y2="588.2" stroke="#0c0c0c" stroke-width="2"/>
<line x1="322.6" y1="641.7" x2="330.8" y2="658.6" stroke="#0c0c0c" stroke-width="2"/>
<path d="M328.1 588.2 L339 597.4 Q352.6 610 352.6 622.7 Q352 640 342.6 650.4 Q337 656 330.8 658.6" fill="none" stroke="#0c0c0c" stroke-width="0.9" stroke-linejoin="round" stroke-linecap="round" />
<line x1="297.2" y1="605.5" x2="322.6" y2="604.8" stroke="#0c0c0c" stroke-width="1"/>
<line x1="297.2" y1="641.9" x2="322.6" y2="641.5" stroke="#0c0c0c" stroke-width="1"/>
<line x1="301.7" y1="605.4" x2="301.7" y2="641.8" stroke="#0c0c0c" stroke-width="1"/>
<polygon points="301.7,605.4 303.94,614 301.7,612.8 299.46,614" fill="#0c0c0c"/>
<polygon points="301.7,641.8 299.46,633.2 301.7,634.4 303.94,633.2" fill="#0c0c0c"/>
<text transform="translate(295.2 624.2) rotate(-90)" x="0" y="3.67" font-family='"Liberation Sans", "DejaVu Sans", sans-serif' font-size="10.5" font-style="italic" font-weight="normal" text-anchor="middle" fill="#0c0c0c" stroke="#0c0c0c" stroke-width="0.22">t</text>
<path d="M300.8 586.7 A51.8 51.8 0 0 0 303.6 659.9" fill="none" stroke="#0c0c0c" stroke-width="1" stroke-linejoin="round" stroke-linecap="round" />
<polygon points="300.6,586.4 296.15,594.09 295.41,591.67 292.97,590.95" fill="#0c0c0c"/>
<polygon points="303.4,660.2 295.64,655.86 298.06,655.08 298.74,652.64" fill="#0c0c0c"/>
<text transform="translate(281 619.4) rotate(-90)" x="0" y="3.32" font-family='"Liberation Sans", "DejaVu Sans", sans-serif' font-size="9.5" font-style="italic" font-weight="normal" text-anchor="middle" fill="#0c0c0c" textLength="15" lengthAdjust="spacingAndGlyphs" stroke="#0c0c0c" stroke-width="0.22">90°</text>
<text transform="translate(270.6 622.6) rotate(-90)" x="0" y="3.85" font-family='"Liberation Sans", "DejaVu Sans", sans-serif' font-size="11" font-style="italic" font-weight="normal" text-anchor="middle" fill="#0c0c0c" textLength="8.5" lengthAdjust="spacingAndGlyphs" stroke="#0c0c0c" stroke-width="0.22">Д</text>
<line x1="320.4" y1="622.7" x2="331.7" y2="622.7" stroke="#0c0c0c" stroke-width="2.2"/>
<line x1="323.5" y1="636.3" x2="323.5" y2="624" stroke="#0c0c0c" stroke-width="1"/>
<polygon points="323.5,623.8 325.3,632.05 323.5,630.89 321.7,632.05" fill="#0c0c0c"/>
<text transform="translate(316.3 632.8) rotate(-90)" x="0" y="3.85" font-family='"Liberation Sans", "DejaVu Sans", sans-serif' font-size="11" font-style="italic" font-weight="normal" text-anchor="middle" fill="#0c0c0c" stroke="#0c0c0c" stroke-width="0.22">Е</text>
<line x1="331.7" y1="622.8" x2="357" y2="622.5" stroke="#0c0c0c" stroke-width="0.7" stroke-dasharray="8 2 2 2"/>
<line x1="357.1" y1="622" x2="368.9" y2="622" stroke="#0c0c0c" stroke-width="2.2"/>
<line x1="365" y1="641.7" x2="365" y2="623.5" stroke="#0c0c0c" stroke-width="1"/>
<polygon points="365,623.2 366.8,631.45 365,630.3 363.2,631.45" fill="#0c0c0c"/>
<text transform="translate(373.8 635.3) rotate(-90)" x="0" y="3.85" font-family='"Liberation Sans", "DejaVu Sans", sans-serif' font-size="11" font-style="italic" font-weight="normal" text-anchor="middle" fill="#0c0c0c" stroke="#0c0c0c" stroke-width="0.22">Е</text>
<text transform="translate(359.2 600.8) rotate(-90)" x="0" y="3.15" font-family='"Liberation Sans", "DejaVu Sans", sans-serif' font-size="9" font-style="italic" font-weight="normal" text-anchor="middle" fill="#0c0c0c" textLength="20" lengthAdjust="spacingAndGlyphs" stroke="#0c0c0c" stroke-width="0.22">R0,2</text>
<polyline points="364,590.6 364.4,611.8 345.4,618.6" fill="none" stroke="#0c0c0c" stroke-width="1" stroke-linejoin="round"/>
<polygon points="344.4,619 351.45,614.21 351.08,616.61 352.89,618.25" fill="#0c0c0c"/>
<path d="M293.0 689.6 Q309 693 319.2 704.6" fill="none" stroke="#0c0c0c" stroke-width="0.9" stroke-linejoin="round" stroke-linecap="round" />
<polyline points="293,689.6 293.6,708.6" fill="none" stroke="#0c0c0c" stroke-width="1" stroke-linejoin="round"/>
<line x1="293.6" y1="708.6" x2="319.9" y2="707.3" stroke="#0c0c0c" stroke-width="2"/>
<line x1="296.3" y1="712.1" x2="319.9" y2="710.9" stroke="#0c0c0c" stroke-width="1"/>
<line x1="319.2" y1="704.6" x2="319.9" y2="707.3" stroke="#0c0c0c" stroke-width="1"/>
<line x1="293.6" y1="708.6" x2="296.3" y2="712.1" stroke="#0c0c0c" stroke-width="1"/>
<line x1="301.6" y1="712" x2="302.4" y2="759" stroke="#0c0c0c" stroke-width="1"/>
<polyline points="319.9,707.3 321.2,722.7 319,732.6" fill="none" stroke="#0c0c0c" stroke-width="1" stroke-linejoin="round"/>
<line x1="300.8" y1="723.8" x2="321" y2="723.2" stroke="#0c0c0c" stroke-width="1.2"/>
<line x1="297.2" y1="732.8" x2="319" y2="732.4" stroke="#0c0c0c" stroke-width="1.2"/>
<line x1="300.8" y1="723.8" x2="297.2" y2="732.8" stroke="#0c0c0c" stroke-width="1"/>
<polyline points="297.2,732.8 297.8,759.2 302.6,758.2" fill="none" stroke="#0c0c0c" stroke-width="1.2" stroke-linejoin="round"/>
<path d="M319.0 732.6 Q314 748 302.6 758.2" fill="none" stroke="#0c0c0c" stroke-width="0.9" stroke-linejoin="round" stroke-linecap="round" />
<line x1="302.6" y1="758" x2="303.2" y2="777.1" stroke="#0c0c0c" stroke-width="1"/>
<line x1="342.6" y1="771.7" x2="304.4" y2="772" stroke="#0c0c0c" stroke-width="1"/>
<polygon points="303.5,772 312.1,769.76 310.9,772 312.1,774.24" fill="#0c0c0c"/>
<text transform="translate(330 777.4) rotate(180)" x="0" y="3.67" font-family='"Liberation Sans", "DejaVu Sans", sans-serif' font-size="10.5" font-style="italic" font-weight="normal" text-anchor="middle" fill="#0c0c0c" stroke="#0c0c0c" stroke-width="0.22">D</text>
<text transform="translate(322.6 775.3) rotate(180)" x="0" y="2.52" font-family='"Liberation Sans", "DejaVu Sans", sans-serif' font-size="7.2" font-style="italic" font-weight="normal" text-anchor="middle" fill="#0c0c0c" textLength="6.85" lengthAdjust="spacingAndGlyphs" stroke="#0c0c0c" stroke-width="0.22">10</text>
<text transform="translate(270 722.7) rotate(-90)" x="0" y="4.02" font-family='"Liberation Sans", "DejaVu Sans", sans-serif' font-size="11.5" font-style="italic" font-weight="normal" text-anchor="middle" fill="#0c0c0c" stroke="#0c0c0c" stroke-width="0.22">Г</text>
<line x1="430.8" y1="347.7" x2="431.2" y2="427.6" stroke="#0c0c0c" stroke-width="1"/>
<line x1="538" y1="353.2" x2="432" y2="353.7" stroke="#0c0c0c" stroke-width="1"/>
<polygon points="430.9,353.7 439.5,351.46 438.3,353.7 439.5,355.94" fill="#0c0c0c"/>
<text transform="translate(499.4 346.6) rotate(180)" x="0" y="3.67" font-family='"Liberation Sans", "DejaVu Sans", sans-serif' font-size="10.5" font-style="italic" font-weight="normal" text-anchor="middle" fill="#0c0c0c" textLength="69" lengthAdjust="spacingAndGlyphs" stroke="#0c0c0c" stroke-width="0.22">по диаметру</text>
<text transform="translate(495.7 361.4) rotate(180)" x="0" y="3.5" font-family='"Liberation Sans", "DejaVu Sans", sans-serif' font-size="10" font-style="italic" font-weight="normal" text-anchor="middle" fill="#0c0c0c" stroke="#0c0c0c" stroke-width="0.22">М</text>
<path d="M505.5 370.3 Q488 379 476 388" fill="none" stroke="#0c0c0c" stroke-width="1" stroke-linejoin="round" stroke-linecap="round" />
<line x1="500.9" y1="376" x2="539" y2="431.3" stroke="#0c0c0c" stroke-width="1"/>
<polygon points="500.6,375.6 507.32,381.41 504.8,381.69 503.64,383.95" fill="#0c0c0c"/>
<text transform="translate(516.8 412.3) rotate(-124.6)" x="0" y="3.67" font-family='"Liberation Sans", "DejaVu Sans", sans-serif' font-size="10.5" font-style="italic" font-weight="normal" text-anchor="middle" fill="#0c0c0c" stroke="#0c0c0c" stroke-width="0.22">D</text>
<text transform="translate(515.13 406.18) rotate(-124.6)" x="0" y="2.52" font-family='"Liberation Sans", "DejaVu Sans", sans-serif' font-size="7.2" font-style="italic" font-weight="normal" text-anchor="middle" fill="#0c0c0c" stroke="#0c0c0c" stroke-width="0.22">4</text>
<clipPath id="hvv"><path d="M489.1 395 Q473 418 473.2 439.6 Q473.4 462 489.9 484.2 Q498 477 501.4 466 Q503.4 452 503 439.6 Q502.6 420 498 406 Q494 398 489.1 395 Z"/></clipPath>
<g clip-path="url(#hvv)" stroke="#0c0c0c" stroke-width="0.85"><line x1="487.56" y1="360.89" x2="566.73" y2="432.17"/><line x1="483.21" y1="365.72" x2="562.38" y2="437"/><line x1="478.86" y1="370.55" x2="558.03" y2="441.83"/><line x1="474.51" y1="375.38" x2="553.68" y2="446.66"/><line x1="470.16" y1="380.21" x2="549.33" y2="451.49"/><line x1="465.81" y1="385.04" x2="544.98" y2="456.32"/><line x1="461.47" y1="389.87" x2="540.63" y2="461.15"/><line x1="457.12" y1="394.7" x2="536.28" y2="465.98"/><line x1="452.77" y1="399.53" x2="531.93" y2="470.81"/><line x1="448.42" y1="404.36" x2="527.58" y2="475.64"/><line x1="444.07" y1="409.19" x2="523.23" y2="480.47"/><line x1="439.72" y1="414.02" x2="518.88" y2="485.3"/><line x1="435.37" y1="418.85" x2="514.53" y2="490.13"/><line x1="431.02" y1="423.68" x2="510.19" y2="494.96"/><line x1="426.67" y1="428.51" x2="505.84" y2="499.79"/><line x1="422.32" y1="433.34" x2="501.49" y2="504.62"/><line x1="417.97" y1="438.17" x2="497.14" y2="509.45"/><line x1="413.62" y1="443" x2="492.79" y2="514.28"/><line x1="409.27" y1="447.83" x2="488.44" y2="519.11"/></g>
<path d="M489.1 395 Q473 418 473.2 439.6 Q473.4 462 489.9 484.2" fill="none" stroke="#0c0c0c" stroke-width="1.9" stroke-linejoin="round" stroke-linecap="round" />
<path d="M489.9 484.2 Q498 477 501.4 466 Q503.4 452 503 439.6 Q502.6 420 498 406 Q494 398 489.1 395" fill="none" stroke="#0c0c0c" stroke-width="0.8" stroke-linejoin="round" stroke-linecap="round" />
<polyline points="489.1,395 482.3,389.7 477.8,393.4 464.2,392.4 459.6,401.8 468,410.1 464.9,417.7 453.6,419.9 452.1,429 463.4,435.1 463.4,442.6 452.8,450.2 453.6,458.5 465.7,462.3 468.7,470.6 461.1,479.7 465.7,487.2 478.5,486.5 483.1,489.5 489.9,484.2" fill="none" stroke="#0c0c0c" stroke-width="1.9" stroke-linejoin="round"/>
<path d="M475.5 387.4 Q459 411 458 438 Q457.6 466 472.5 488" fill="none" stroke="#0c0c0c" stroke-width="0.7" stroke-linejoin="round" stroke-linecap="round" />
<line x1="428.6" y1="439.9" x2="509.6" y2="439.7" stroke="#0c0c0c" stroke-width="0.7" stroke-dasharray="16 2.5 2 2.5"/>
<line x1="457" y1="392.7" x2="487.6" y2="408.6" stroke="#0c0c0c" stroke-width="1"/>
<line x1="447.5" y1="423.7" x2="480" y2="429" stroke="#0c0c0c" stroke-width="1"/>
<line x1="449" y1="456.2" x2="480" y2="450.2" stroke="#0c0c0c" stroke-width="1"/>
<line x1="460.4" y1="478.9" x2="487.6" y2="471.4" stroke="#0c0c0c" stroke-width="1" stroke-dasharray="7 2 2 2"/>
<circle cx="444.5" cy="439.6" r="12.2" fill="none" stroke="#0c0c0c" stroke-width="1"/>
<line x1="444.5" y1="423" x2="444.5" y2="457.7" stroke="#0c0c0c" stroke-width="1"/>
<polyline points="418.8,406.3 418.8,423.7 455.4,445.4" fill="none" stroke="#0c0c0c" stroke-width="1" stroke-linejoin="round"/>
<polygon points="455.8,445.6 447.25,443.17 449.43,441.85 449.52,439.31" fill="#0c0c0c"/>
<polygon points="434.2,432.8 426,430.47 428.08,429.2 428.18,426.77" fill="#0c0c0c"/>
<text transform="translate(414 414.6) rotate(-90)" x="0" y="3.67" font-family='"Liberation Sans", "DejaVu Sans", sans-serif' font-size="10.5" font-style="italic" font-weight="normal" text-anchor="middle" fill="#0c0c0c" stroke="#0c0c0c" stroke-width="0.22">d</text>
<text transform="translate(416.1 409.4) rotate(-90)" x="0" y="2.52" font-family='"Liberation Sans", "DejaVu Sans", sans-serif' font-size="7.2" font-style="italic" font-weight="normal" text-anchor="middle" fill="#0c0c0c" stroke="#0c0c0c" stroke-width="0.22">р</text>
<line x1="419" y1="406.3" x2="419" y2="423.7" stroke="#0c0c0c" stroke-width="1"/>
<circle cx="456.6" cy="477.4" r="9" fill="none" stroke="#0c0c0c" stroke-width="1"/>
<polyline points="451.3,459.3 437.7,466.8 437.7,475.9" fill="none" stroke="#0c0c0c" stroke-width="1" stroke-linejoin="round"/>
<text transform="translate(431.8 471.6) rotate(-90)" x="0" y="3.67" font-family='"Liberation Sans", "DejaVu Sans", sans-serif' font-size="10.5" font-style="italic" font-weight="normal" text-anchor="middle" fill="#0c0c0c" stroke="#0c0c0c" stroke-width="0.22">Z</text>
<line x1="438.7" y1="487.2" x2="482.9" y2="472.4" stroke="#0c0c0c" stroke-width="1" stroke-dasharray="12 2 2 2"/>
<line x1="447.5" y1="501.4" x2="473.1" y2="488.8" stroke="#0c0c0c" stroke-width="1"/>
<line x1="442.6" y1="485.8" x2="449.7" y2="499.8" stroke="#0c0c0c" stroke-width="1"/>
<polygon points="442.6,485.8 447.73,491.61 445.52,491.55 444.25,493.37" fill="#0c0c0c"/>
<polygon points="449.7,499.8 444.57,493.99 446.78,494.05 448.05,492.23" fill="#0c0c0c"/>
<text transform="translate(438.7 500.2) rotate(-90)" x="0" y="3.5" font-family='"Liberation Sans", "DejaVu Sans", sans-serif' font-size="10" font-style="italic" font-weight="normal" text-anchor="middle" fill="#0c0c0c" stroke="#0c0c0c" stroke-width="0.22">S</text>
<text transform="translate(432.8 494.2) rotate(-90)" x="0" y="2.38" font-family='"DejaVu Sans", "Liberation Sans", sans-serif' font-size="6.6" text-anchor="middle" fill="#0c0c0c">✱</text>
<text transform="translate(461.3 508.8) rotate(-90)" x="0" y="3.85" font-family='"Liberation Sans", "DejaVu Sans", sans-serif' font-size="11" font-style="italic" font-weight="normal" text-anchor="middle" fill="#0c0c0c" textLength="9.5" lengthAdjust="spacingAndGlyphs" stroke="#0c0c0c" stroke-width="0.22">Ж</text>
<polyline points="468.8,514.2 468.8,499 460.4,490.4" fill="none" stroke="#0c0c0c" stroke-width="1" stroke-linejoin="round"/>
<path d="M462 478 Q474 494 496.7 509.2" fill="none" stroke="#0c0c0c" stroke-width="1" stroke-linejoin="round" stroke-linecap="round" />
<path d="M459.3 489.2 Q484 513.6 522.3 526.9" fill="none" stroke="#0c0c0c" stroke-width="1" stroke-linejoin="round" stroke-linecap="round" />
<line x1="533.7" y1="452.2" x2="492.2" y2="504.4" stroke="#0c0c0c" stroke-width="1"/>
<polygon points="491.8,504.9 495.4,496.78 496.4,499.11 498.9,499.56" fill="#0c0c0c"/>
<text transform="translate(512 468.8) rotate(-52)" x="0" y="3.67" font-family='"Liberation Sans", "DejaVu Sans", sans-serif' font-size="10.5" font-style="italic" font-weight="normal" text-anchor="middle" fill="#0c0c0c" stroke="#0c0c0c" stroke-width="0.22">d</text>
<line x1="539" y1="447.5" x2="514.6" y2="524.9" stroke="#0c0c0c" stroke-width="1"/>
<polygon points="514.4,525.5 514.85,516.63 516.62,518.45 519.12,517.97" fill="#0c0c0c"/>
<text transform="translate(519 493.6) rotate(-72)" x="0" y="3.67" font-family='"Liberation Sans", "DejaVu Sans", sans-serif' font-size="10.5" font-style="italic" font-weight="normal" text-anchor="middle" fill="#0c0c0c" stroke="#0c0c0c" stroke-width="0.22">D</text>
<text transform="translate(522.85 488.55) rotate(-72)" x="0" y="2.52" font-family='"Liberation Sans", "DejaVu Sans", sans-serif' font-size="7.2" font-style="italic" font-weight="normal" text-anchor="middle" fill="#0c0c0c" stroke="#0c0c0c" stroke-width="0.22">1</text>
<text transform="translate(380.2 443) rotate(-90)" x="0" y="4.38" font-family='"Liberation Sans", "DejaVu Sans", sans-serif' font-size="12.5" font-style="italic" font-weight="normal" text-anchor="middle" fill="#0c0c0c" textLength="27" lengthAdjust="spacingAndGlyphs" stroke="none">В - В</text>
<text transform="translate(395.8 442.6) rotate(-90)" x="0" y="4.38" font-family='"Liberation Sans", "DejaVu Sans", sans-serif' font-size="12.5" font-style="italic" font-weight="normal" text-anchor="middle" fill="#0c0c0c" textLength="88" lengthAdjust="spacingAndGlyphs" stroke="none">Шлицевые зубья</text>
<path d="M468.1 539 Q455.2 561 455.1 584.9 Q455.6 612 472.2 634.8" fill="none" stroke="#0c0c0c" stroke-width="1.9" stroke-linejoin="round" stroke-linecap="round" />
<line x1="468.1" y1="539" x2="485.8" y2="551.3" stroke="#0c0c0c" stroke-width="0.9"/>
<line x1="472.2" y1="634.8" x2="488.5" y2="622.8" stroke="#0c0c0c" stroke-width="1.8"/>
<clipPath id="hbb"><path d="M485.8 551.3 Q474.6 567 474.9 584.9 Q475.4 606 488.5 622.8 Q493 612 494.2 597 Q494.8 580 492.6 567 Q490 557 485.8 551.3 Z"/></clipPath>
<g clip-path="url(#hbb)" stroke="#0c0c0c" stroke-width="0.8"><line x1="486.3" y1="520.8" x2="550.15" y2="578.29"/><line x1="480.68" y1="527.05" x2="544.52" y2="584.53"/><line x1="475.06" y1="533.29" x2="538.9" y2="590.77"/><line x1="469.44" y1="539.53" x2="533.28" y2="597.01"/><line x1="463.82" y1="545.77" x2="527.66" y2="603.26"/><line x1="458.2" y1="552.02" x2="522.04" y2="609.5"/><line x1="452.58" y1="558.26" x2="516.42" y2="615.74"/><line x1="446.96" y1="564.5" x2="510.8" y2="621.98"/><line x1="441.34" y1="570.74" x2="505.18" y2="628.23"/><line x1="435.72" y1="576.99" x2="499.56" y2="634.47"/><line x1="430.1" y1="583.23" x2="493.94" y2="640.71"/><line x1="424.48" y1="589.47" x2="488.32" y2="646.95"/><line x1="418.85" y1="595.71" x2="482.7" y2="653.2"/></g>
<path d="M485.8 551.3 Q474.6 567 474.9 584.9 Q475.4 606 488.5 622.8" fill="none" stroke="#0c0c0c" stroke-width="1.9" stroke-linejoin="round" stroke-linecap="round" />
<path d="M488.5 622.8 Q493 612 494.2 597 Q494.8 580 492.6 567 Q490 557 485.8 551.3" fill="none" stroke="#0c0c0c" stroke-width="0.8" stroke-linejoin="round" stroke-linecap="round" />
<line x1="450.6" y1="585" x2="498.2" y2="584.8" stroke="#0c0c0c" stroke-width="0.7" stroke-dasharray="16 2.5 2 2.5"/>
<line x1="468.1" y1="539" x2="480.8" y2="523.6" stroke="#0c0c0c" stroke-width="1"/>
<line x1="478.2" y1="528.6" x2="526.6" y2="576.3" stroke="#0c0c0c" stroke-width="1"/>
<polygon points="477.8,528.2 485.5,532.64 483.07,533.39 482.36,535.83" fill="#0c0c0c"/>
<text transform="translate(507.2 565) rotate(-135)" x="0" y="3.67" font-family='"Liberation Sans", "DejaVu Sans", sans-serif' font-size="10.5" font-style="italic" font-weight="normal" text-anchor="middle" fill="#0c0c0c" stroke="#0c0c0c" stroke-width="0.22">D</text>
<text transform="translate(504.45 559.28) rotate(-135)" x="0" y="2.52" font-family='"Liberation Sans", "DejaVu Sans", sans-serif' font-size="7.2" font-style="italic" font-weight="normal" text-anchor="middle" fill="#0c0c0c" stroke="#0c0c0c" stroke-width="0.22">3</text>
<text transform="translate(409.2 583.8) rotate(-90)" x="0" y="4.38" font-family='"Liberation Sans", "DejaVu Sans", sans-serif' font-size="12.5" font-style="italic" font-weight="normal" text-anchor="middle" fill="#0c0c0c" textLength="26" lengthAdjust="spacingAndGlyphs" stroke="none">Б - Б</text>
<text transform="translate(431.2 578.4) rotate(-90)" x="0" y="4.38" font-family='"Liberation Sans", "DejaVu Sans", sans-serif' font-size="12.5" font-style="italic" font-weight="normal" text-anchor="middle" fill="#0c0c0c" textLength="82" lengthAdjust="spacingAndGlyphs" stroke="none">Круглые зубья</text>
<line x1="414.5" y1="677.9" x2="478.1" y2="677.5" stroke="#0c0c0c" stroke-width="1"/>
<line x1="417.7" y1="779.1" x2="478.1" y2="778.7" stroke="#0c0c0c" stroke-width="1"/>
<line x1="420.3" y1="677.8" x2="422.4" y2="778.9" stroke="#0c0c0c" stroke-width="1"/>
<polygon points="420.3,677.8 422.71,686.35 420.45,685.19 418.24,686.44" fill="#0c0c0c"/>
<polygon points="422.4,778.9 419.99,770.35 422.25,771.51 424.46,770.26" fill="#0c0c0c"/>
<text transform="translate(415.2 728.5) rotate(-90)" x="0" y="3.67" font-family='"Liberation Sans", "DejaVu Sans", sans-serif' font-size="10.5" font-style="italic" font-weight="normal" text-anchor="middle" fill="#0c0c0c" stroke="#0c0c0c" stroke-width="0.22">b</text>
<circle cx="463.2" cy="690.4" r="11" fill="none" stroke="#0c0c0c" stroke-width="1"/>
<text transform="translate(436.8 667.2) rotate(-90)" x="0" y="3.5" font-family='"Liberation Sans", "DejaVu Sans", sans-serif' font-size="10" font-style="italic" font-weight="normal" text-anchor="middle" fill="#0c0c0c" textLength="8" lengthAdjust="spacingAndGlyphs" stroke="#0c0c0c" stroke-width="0.22">Д</text>
<line x1="440.6" y1="663" x2="440.8" y2="671.5" stroke="#0c0c0c" stroke-width="1"/>
<line x1="440.8" y1="669.6" x2="455.4" y2="682.8" stroke="#0c0c0c" stroke-width="1"/>
<text transform="translate(462.4 647.6) rotate(-90)" x="0" y="3.15" font-family='"Liberation Sans", "DejaVu Sans", sans-serif' font-size="9" font-style="italic" font-weight="normal" text-anchor="middle" fill="#0c0c0c" textLength="37" lengthAdjust="spacingAndGlyphs" stroke="#0c0c0c" stroke-width="0.22">R0,5max</text>
<polyline points="467.3,628.6 467.5,661.2 478.6,675.2" fill="none" stroke="#0c0c0c" stroke-width="1" stroke-linejoin="round"/>
<polygon points="479.4,676.2 472.59,671.08 474.99,670.65 475.95,668.41" fill="#0c0c0c"/>
<polyline points="479.9,677.3 487.1,671.5" fill="none" stroke="#0c0c0c" stroke-width="1.8" stroke-linejoin="round"/>
<line x1="487.1" y1="671.5" x2="498.4" y2="683.6" stroke="#0c0c0c" stroke-width="0.9"/>
<line x1="487.1" y1="671.5" x2="503" y2="656.3" stroke="#0c0c0c" stroke-width="1"/>
<line x1="501.8" y1="660" x2="542.7" y2="719.4" stroke="#0c0c0c" stroke-width="1"/>
<polygon points="501.4,659.5 508.14,665.29 505.62,665.57 504.47,667.84" fill="#0c0c0c"/>
<text transform="translate(520.8 699.8) rotate(-125)" x="0" y="3.67" font-family='"Liberation Sans", "DejaVu Sans", sans-serif' font-size="10.5" font-style="italic" font-weight="normal" text-anchor="middle" fill="#0c0c0c" stroke="#0c0c0c" stroke-width="0.22">D</text>
<text transform="translate(519.08 693.69) rotate(-125)" x="0" y="2.52" font-family='"Liberation Sans", "DejaVu Sans", sans-serif' font-size="7.2" font-style="italic" font-weight="normal" text-anchor="middle" fill="#0c0c0c" stroke="#0c0c0c" stroke-width="0.22">3</text>
<clipPath id="hoh"><path d="M492.9 679.5 C491.22 682.62 485.33 692.43 482.8 698.2 C480.27 703.97 478.78 709.28 477.7 714.1 C476.62 718.92 476.05 722.28 476.3 727.1 C476.55 731.92 477.65 737.95 479.2 743 C480.75 748.05 482.9 752.53 485.6 757.4 C488.3 762.27 493.77 769.73 495.4 772.2 C496.2 770.33 498.43 765.73 500.2 761 C501.97 756.27 504.57 749.87 506 743.8 C507.43 737.73 508.63 731.32 508.8 724.6 C508.97 717.88 508.6 709.6 507 703.5 C505.4 697.4 501.55 692 499.2 688 C496.85 684 493.95 680.92 492.9 679.5Z"/></clipPath>
<g clip-path="url(#hoh)" stroke="#0c0c0c" stroke-width="0.8"><line x1="492.71" y1="643.39" x2="575.19" y2="717.65"/><line x1="488.16" y1="648.44" x2="570.64" y2="722.7"/><line x1="483.61" y1="653.5" x2="566.09" y2="727.76"/><line x1="479.06" y1="658.55" x2="561.54" y2="732.81"/><line x1="474.51" y1="663.6" x2="556.99" y2="737.86"/><line x1="469.96" y1="668.66" x2="552.44" y2="742.92"/><line x1="465.41" y1="673.71" x2="547.89" y2="747.97"/><line x1="460.86" y1="678.76" x2="543.34" y2="753.02"/><line x1="456.31" y1="683.82" x2="538.79" y2="758.08"/><line x1="451.76" y1="688.87" x2="534.24" y2="763.13"/><line x1="447.21" y1="693.92" x2="529.69" y2="768.18"/><line x1="442.66" y1="698.98" x2="525.14" y2="773.24"/><line x1="438.11" y1="704.03" x2="520.59" y2="778.29"/><line x1="433.56" y1="709.08" x2="516.04" y2="783.34"/><line x1="429.01" y1="714.14" x2="511.49" y2="788.4"/><line x1="424.46" y1="719.19" x2="506.94" y2="793.45"/><line x1="419.91" y1="724.24" x2="502.39" y2="798.5"/><line x1="415.36" y1="729.3" x2="497.84" y2="803.56"/><line x1="410.81" y1="734.35" x2="493.29" y2="808.61"/></g>
<path d="M492.9 679.5 C491.22 682.62 485.33 692.43 482.8 698.2 C480.27 703.97 478.78 709.28 477.7 714.1 C476.62 718.92 476.05 722.28 476.3 727.1 C476.55 731.92 477.65 737.95 479.2 743 C480.75 748.05 482.9 752.53 485.6 757.4 C488.3 762.27 493.77 769.73 495.4 772.2" fill="none" stroke="#0c0c0c" stroke-width="1.9" stroke-linejoin="round" stroke-linecap="round" />
<path d="M495.4 772.2 C496.2 770.33 498.43 765.73 500.2 761 C501.97 756.27 504.57 749.87 506 743.8 C507.43 737.73 508.63 731.32 508.8 724.6 C508.97 717.88 508.6 709.6 507 703.5 C505.4 697.4 501.55 692 499.2 688 C496.85 684 493.95 680.92 492.9 679.5" fill="none" stroke="#0c0c0c" stroke-width="0.8" stroke-linejoin="round" stroke-linecap="round" />
<line x1="452.4" y1="727.2" x2="516.2" y2="726.6" stroke="#0c0c0c" stroke-width="0.7" stroke-dasharray="16 2.5 2 2.5"/>
<polyline points="479.9,677.3 472.7,679.2 468.6,683.5 470.6,686.1 465.7,689.5 468.3,693.2 466.9,697.5 468.3,699.9 463.3,703.3 459.7,705.4 458.9,708.3 461.1,711.2 458.2,714.8 461.1,717.7 458.9,720.6 462.5,722.8 463.3,727.1 461.1,731.4 458.9,734.3 460.5,737.2 458.2,740.8 460.5,743.7 458.9,747.3 461.1,750.2 466.2,751.6 469.8,755.3 467.6,758.9 471.2,761.8 466.9,764.6 471.2,767.5 469,771.1 473.4,773.3 472.7,776.2 475.5,777.6 480.6,776.9 483.5,779.8 484.9,784.9 483.5,789.2 487.1,790.6 488.5,793.5" fill="none" stroke="#0c0c0c" stroke-width="1.6" stroke-linejoin="round"/>
<line x1="472.7" y1="686.7" x2="491.4" y2="695.3" stroke="#0c0c0c" stroke-width="1"/>
<line x1="456" y1="712.7" x2="477" y2="715.5" stroke="#0c0c0c" stroke-width="1"/>
<line x1="453.2" y1="734.4" x2="477.4" y2="732.8" stroke="#0c0c0c" stroke-width="1"/>
<line x1="454.6" y1="740" x2="472.6" y2="735.8" stroke="#0c0c0c" stroke-width="1"/>
<line x1="455.4" y1="745.4" x2="472" y2="740.6" stroke="#0c0c0c" stroke-width="1"/>
<line x1="463.3" y1="769" x2="492.9" y2="758.1" stroke="#0c0c0c" stroke-width="1"/>
<line x1="463.3" y1="774" x2="468.4" y2="771.2" stroke="#0c0c0c" stroke-width="1"/>
<line x1="453.4" y1="708.4" x2="459.4" y2="708" stroke="#0c0c0c" stroke-width="1"/>
<line x1="453.6" y1="716.6" x2="458.6" y2="716" stroke="#0c0c0c" stroke-width="1"/>
<line x1="454" y1="738.2" x2="458.4" y2="737.4" stroke="#0c0c0c" stroke-width="1"/>
<line x1="463.6" y1="763" x2="468" y2="760.6" stroke="#0c0c0c" stroke-width="1"/>
<line x1="464.4" y1="767.4" x2="469.2" y2="765" stroke="#0c0c0c" stroke-width="1"/>
<line x1="438.5" y1="712" x2="438.5" y2="724.5" stroke="#0c0c0c" stroke-width="1"/>
<polygon points="438.5,724.7 436.55,717.2 438.5,718.25 440.45,717.2" fill="#0c0c0c"/>
<line x1="438.7" y1="731.6" x2="438.7" y2="744" stroke="#0c0c0c" stroke-width="1"/>
<polygon points="438.7,731.5 440.65,739 438.7,737.95 436.75,739" fill="#0c0c0c"/>
<line x1="434.7" y1="724.8" x2="468.5" y2="724.6" stroke="#0c0c0c" stroke-width="1"/>
<line x1="437.8" y1="731.6" x2="468.5" y2="731.4" stroke="#0c0c0c" stroke-width="1"/>
<text transform="translate(431.4 716.2) rotate(-90)" x="0" y="3.5" font-family='"Liberation Sans", "DejaVu Sans", sans-serif' font-size="10" font-style="italic" font-weight="normal" text-anchor="middle" fill="#0c0c0c" stroke="#0c0c0c" stroke-width="0.22">b</text>
<text transform="translate(433.4 711.13) rotate(-90)" x="0" y="2.52" font-family='"Liberation Sans", "DejaVu Sans", sans-serif' font-size="7.2" font-style="italic" font-weight="normal" text-anchor="middle" fill="#0c0c0c" stroke="#0c0c0c" stroke-width="0.22">1</text>
<text transform="translate(425.1 711.4) rotate(-90)" x="0" y="2.38" font-family='"DejaVu Sans", "Liberation Sans", sans-serif' font-size="6.6" text-anchor="middle" fill="#0c0c0c">✱</text>
<text transform="translate(444.2 765.8) rotate(-90)" x="0" y="3.67" font-family='"Liberation Sans", "DejaVu Sans", sans-serif' font-size="10.5" font-style="italic" font-weight="normal" text-anchor="middle" fill="#0c0c0c" stroke="#0c0c0c" stroke-width="0.22">a</text>
<line x1="446.6" y1="746" x2="449.6" y2="760.4" stroke="#0c0c0c" stroke-width="1"/>
<polygon points="448.2,751.8 445.16,745.53 447.06,746.11 448.6,744.84" fill="#0c0c0c"/>
<polygon points="448.8,757.2 451.84,763.47 449.94,762.89 448.4,764.16" fill="#0c0c0c"/>
<line x1="443.6" y1="752.2" x2="455.6" y2="749.6" stroke="#0c0c0c" stroke-width="1"/>
<line x1="444.6" y1="757.8" x2="456.6" y2="755.2" stroke="#0c0c0c" stroke-width="1"/>
<text transform="translate(472.8 748.8) rotate(-90)" x="0" y="3.5" font-family='"Liberation Sans", "DejaVu Sans", sans-serif' font-size="10" font-style="italic" font-weight="normal" text-anchor="middle" fill="#0c0c0c" stroke="#0c0c0c" stroke-width="0.22">a</text>
<line x1="476.4" y1="745" x2="476.6" y2="753" stroke="#0c0c0c" stroke-width="1"/>
<line x1="471.6" y1="729.6" x2="473.4" y2="744" stroke="#0c0c0c" stroke-width="1"/>
<polygon points="472,733.4 474.55,739.89 472.69,739.16 471.06,740.31" fill="#0c0c0c"/>
<path d="M443.1 780.4 Q448 803 476.6 815.7" fill="none" stroke="#0c0c0c" stroke-width="1" stroke-linejoin="round" stroke-linecap="round" />
<polygon points="443,780 446.49,788.17 444.1,787.31 442.06,788.84" fill="#0c0c0c"/>
<polygon points="477,815.9 468.18,814.78 470.13,813.15 469.85,810.63" fill="#0c0c0c"/>
<text transform="translate(446.3 806.8) rotate(-90)" x="0" y="4.02" font-family='"Liberation Sans", "DejaVu Sans", sans-serif' font-size="11.5" font-style="italic" font-weight="normal" text-anchor="middle" fill="#0c0c0c" stroke="#0c0c0c" stroke-width="0.22">φ</text>
<line x1="483.8" y1="781.4" x2="477" y2="820.6" stroke="#0c0c0c" stroke-width="1"/>
<line x1="490.4" y1="792.4" x2="495.4" y2="772.2" stroke="#0c0c0c" stroke-width="0.9"/>
<path d="M487.6 793.1 Q500 802 515.1 807.9" fill="none" stroke="#0c0c0c" stroke-width="1" stroke-linejoin="round" stroke-linecap="round" />
<line x1="543.7" y1="734.8" x2="508.5" y2="803.7" stroke="#0c0c0c" stroke-width="1"/>
<polygon points="508.2,804.3 510.12,795.62 511.56,797.71 514.1,797.66" fill="#0c0c0c"/>
<text transform="translate(519 770.4) rotate(-63)" x="0" y="3.67" font-family='"Liberation Sans", "DejaVu Sans", sans-serif' font-size="10.5" font-style="italic" font-weight="normal" text-anchor="middle" fill="#0c0c0c" stroke="#0c0c0c" stroke-width="0.22">D</text>
<text transform="translate(523.59 766.02) rotate(-63)" x="0" y="2.52" font-family='"Liberation Sans", "DejaVu Sans", sans-serif' font-size="7.2" font-style="italic" font-weight="normal" text-anchor="middle" fill="#0c0c0c" stroke="#0c0c0c" stroke-width="0.22">1</text>
<text transform="translate(402 773) rotate(-90)" x="0" y="4.38" font-family='"Liberation Sans", "DejaVu Sans", sans-serif' font-size="12.5" font-style="italic" font-weight="normal" text-anchor="middle" fill="#0c0c0c" textLength="77" lengthAdjust="spacingAndGlyphs" stroke="none">Охват-q зубьев</text>
<polyline points="409.2,812.7 408.8,733.2 418.8,749" fill="none" stroke="#0c0c0c" stroke-width="1" stroke-linejoin="round"/>
<text transform="translate(363.2 737.4) rotate(-90)" x="0" y="4.38" font-family='"Liberation Sans", "DejaVu Sans", sans-serif' font-size="12.5" font-style="italic" font-weight="normal" text-anchor="middle" fill="#0c0c0c" textLength="23" lengthAdjust="spacingAndGlyphs" stroke="none">А-А</text>
<text transform="translate(376.6 735.4) rotate(-90)" x="0" y="4.38" font-family='"Liberation Sans", "DejaVu Sans", sans-serif' font-size="12.5" font-style="italic" font-weight="normal" text-anchor="middle" fill="#0c0c0c" textLength="89" lengthAdjust="spacingAndGlyphs" stroke="none">Фасочные зубья</text>
<text transform="translate(473.3 70) rotate(0)" x="0" y="0" font-family='"Liberation Serif", "DejaVu Serif", serif' font-size="12.2" font-style="normal" font-weight="bold" text-anchor="start" fill="#0c0c0c" textLength="134" lengthAdjust="spacingAndGlyphs" word-spacing="4.4">ГОСТ Р 50037—92 С. 2</text>
<text transform="translate(583.6 474.6) rotate(-90)" x="0" y="0" font-family='"Liberation Serif", "DejaVu Serif", serif' font-size="11" font-style="normal" font-weight="bold" text-anchor="start" fill="#0c0c0c" textLength="31.5" lengthAdjust="spacingAndGlyphs" stroke="#0c0c0c" stroke-width="0.22">Черт. 1</text>
<line x1="552.2" y1="771.8" x2="552" y2="827" stroke="#0c0c0c" stroke-width="0.9"/>
<text transform="translate(565.8 823.2) rotate(-90)" x="0" y="0" font-family='"Liberation Serif", "DejaVu Serif", serif' font-size="9.8" font-style="normal" font-weight="normal" text-anchor="start" fill="#0c0c0c" textLength="122" lengthAdjust="spacingAndGlyphs" stroke="#0c0c0c" stroke-width="0.25">• Размеры для справок.</text>
<text transform="translate(575.4 822.6) rotate(-90)" x="0" y="0" font-family='"Liberation Serif", "DejaVu Serif", serif' font-size="9.6" font-style="normal" font-weight="normal" text-anchor="start" fill="#0c0c0c" textLength="206" lengthAdjust="spacingAndGlyphs" stroke="#0c0c0c" stroke-width="0.22">** Размеры и параметр  —  рекомендуемые.</text>
<text transform="translate(325 223.6) rotate(-90)" x="0" y="4.55" font-family='"Liberation Sans", "DejaVu Sans", sans-serif' font-size="13" font-style="italic" font-weight="normal" text-anchor="middle" fill="#0c0c0c" textLength="156" lengthAdjust="spacingAndGlyphs" stroke="none">Размеры профиля протяжки</text>
<text transform="translate(335.8 233.8) rotate(-90)" x="0" y="4.55" font-family='"Liberation Sans", "DejaVu Sans", sans-serif' font-size="13" font-style="italic" font-weight="normal" text-anchor="middle" fill="#0c0c0c" textLength="126" lengthAdjust="spacingAndGlyphs" stroke="none">на 1-м шлицевом зубе</text>
</svg>
</body></html>
